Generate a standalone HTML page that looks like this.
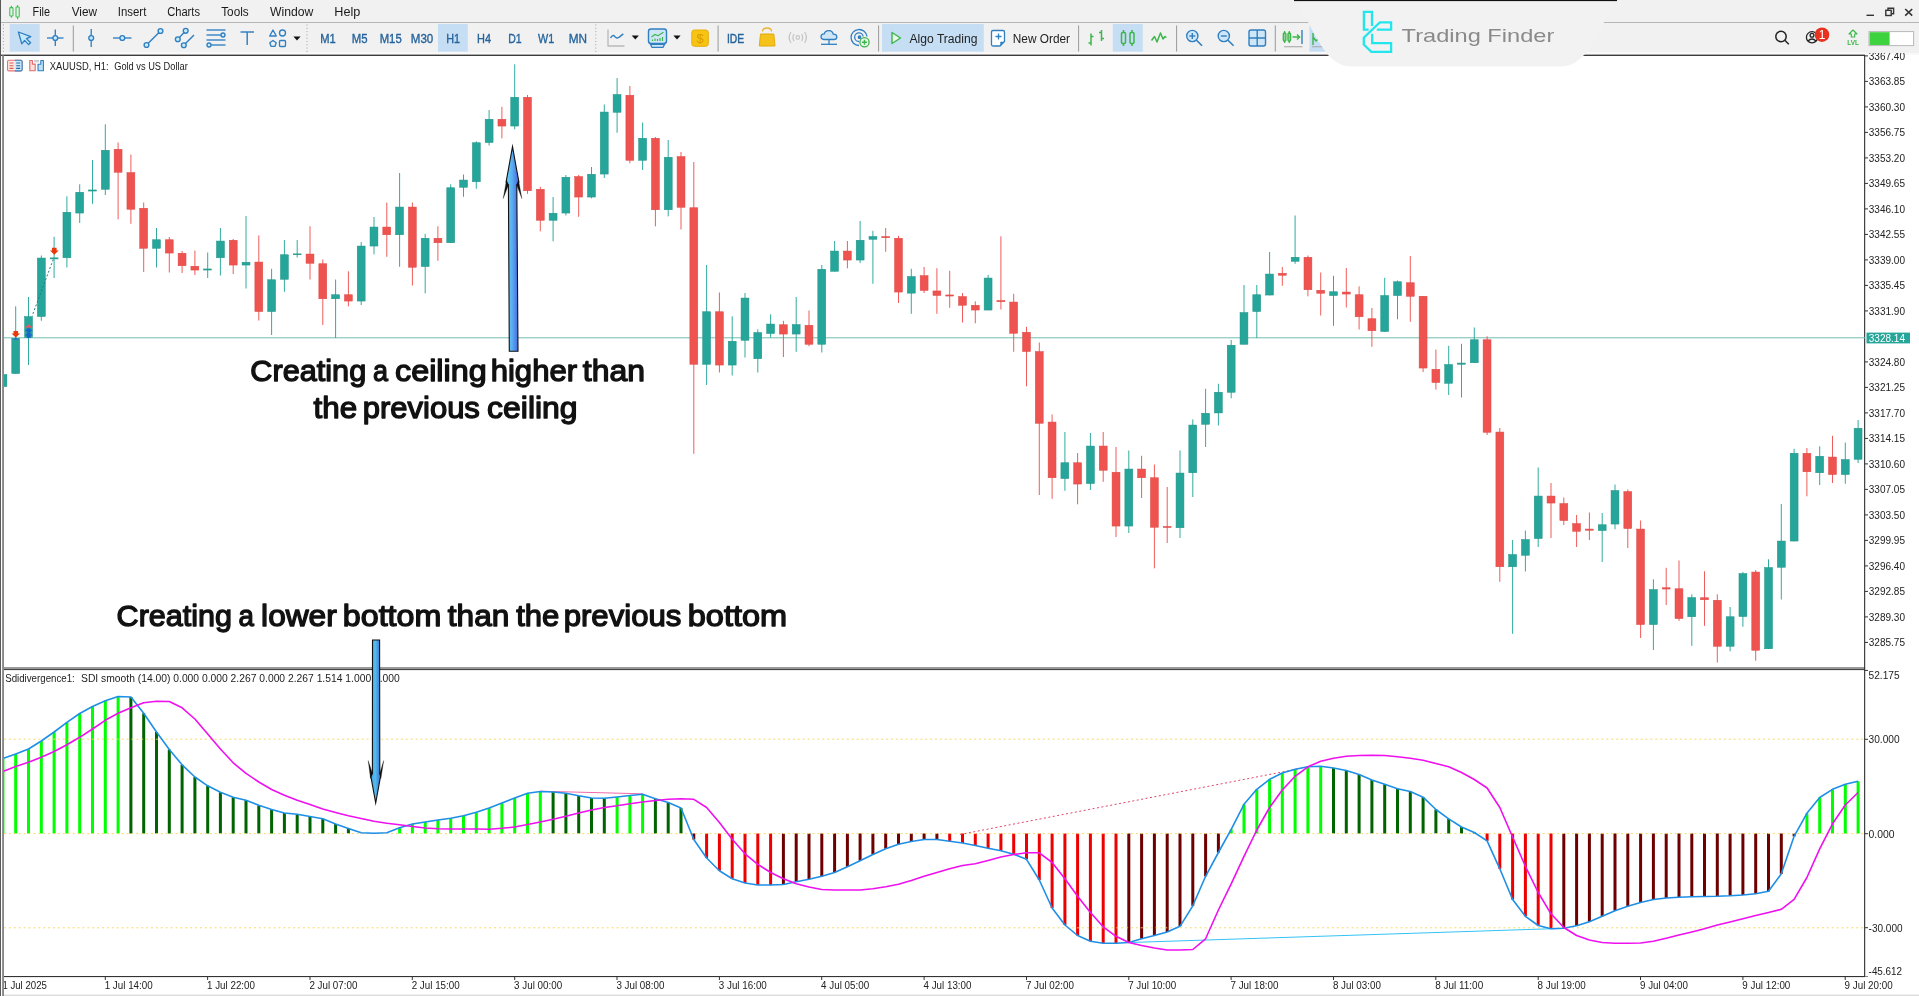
<!DOCTYPE html>
<html><head><meta charset="utf-8"><title>XAUUSD H1</title>
<style>
html,body{margin:0;padding:0;background:#fff;}
body{width:1919px;height:996px;overflow:hidden;position:relative;font-family:"Liberation Sans",sans-serif;}
#menubar{position:absolute;left:0;top:0;width:1919px;height:22px;background:#f1f1f1;}
#toolbar{position:absolute;left:0;top:22px;width:1919px;height:32px;background:#f1f1f1;border-top:1px solid #b6b6b6;box-sizing:border-box;}
.mi{position:absolute;top:5px;font-size:12px;color:#1a1a1a;white-space:nowrap;transform-origin:left center;}
.tf{position:absolute;top:32px;font-size:13px;color:#2b6ca3;white-space:nowrap;}
.sel{position:absolute;top:24px;height:28px;background:#c6def3;}
.tsep{position:absolute;top:27px;width:1px;height:24px;background:#a8a8a8;}
.dsep{position:absolute;top:26px;width:0;height:26px;border-left:1px dotted #9a9a9a;}
.tbtxt{position:absolute;top:31px;font-size:13px;color:#222;white-space:nowrap;}
#all{position:absolute;left:0;top:0;will-change:transform;}
text{font-family:"Liberation Sans",sans-serif;}
.ax{font-size:10px;fill:#222;}
.big{font-weight:bold;font-size:30px;fill:#111;}
</style></head><body>
<div id="menubar"></div>
<div id="toolbar"></div>
<!--MENU-->
<svg id="all" width="1919" height="996" viewBox="0 0 1919 996">
<rect x="0" y="52" width="1919" height="3" fill="#f8f8f8"/>
<rect x="1" y="54.6" width="1864" height="1.4" fill="#3c3c3c"/>
<rect x="3" y="667" width="1862" height="2" fill="#9a9a9a"/>
<rect x="3" y="669" width="1862" height="1.1" fill="#444"/>
<rect x="1864.1" y="55" width="1.1" height="922" fill="#2e2e2e"/>
<rect x="3" y="976" width="1862" height="1.1" fill="#333"/>
<rect x="0" y="994.6" width="1919" height="1.4" fill="#dcdcdc"/>
<rect x="1865" y="55.4" width="3" height="1" fill="#333"/>
<text x="1868.8" y="59.7" font-size="10" fill="#222" text-anchor="start" textLength="36.2" lengthAdjust="spacingAndGlyphs" >3367.40</text>
<rect x="1865" y="80.9" width="3" height="1" fill="#333"/>
<text x="1868.8" y="85.2" font-size="10" fill="#222" text-anchor="start" textLength="36.2" lengthAdjust="spacingAndGlyphs" >3363.85</text>
<rect x="1865" y="106.4" width="3" height="1" fill="#333"/>
<text x="1868.8" y="110.7" font-size="10" fill="#222" text-anchor="start" textLength="36.2" lengthAdjust="spacingAndGlyphs" >3360.30</text>
<rect x="1865" y="131.9" width="3" height="1" fill="#333"/>
<text x="1868.8" y="136.2" font-size="10" fill="#222" text-anchor="start" textLength="36.2" lengthAdjust="spacingAndGlyphs" >3356.75</text>
<rect x="1865" y="157.4" width="3" height="1" fill="#333"/>
<text x="1868.8" y="161.7" font-size="10" fill="#222" text-anchor="start" textLength="36.2" lengthAdjust="spacingAndGlyphs" >3353.20</text>
<rect x="1865" y="182.9" width="3" height="1" fill="#333"/>
<text x="1868.8" y="187.2" font-size="10" fill="#222" text-anchor="start" textLength="36.2" lengthAdjust="spacingAndGlyphs" >3349.65</text>
<rect x="1865" y="208.4" width="3" height="1" fill="#333"/>
<text x="1868.8" y="212.7" font-size="10" fill="#222" text-anchor="start" textLength="36.2" lengthAdjust="spacingAndGlyphs" >3346.10</text>
<rect x="1865" y="233.9" width="3" height="1" fill="#333"/>
<text x="1868.8" y="238.2" font-size="10" fill="#222" text-anchor="start" textLength="36.2" lengthAdjust="spacingAndGlyphs" >3342.55</text>
<rect x="1865" y="259.4" width="3" height="1" fill="#333"/>
<text x="1868.8" y="263.7" font-size="10" fill="#222" text-anchor="start" textLength="36.2" lengthAdjust="spacingAndGlyphs" >3339.00</text>
<rect x="1865" y="284.9" width="3" height="1" fill="#333"/>
<text x="1868.8" y="289.2" font-size="10" fill="#222" text-anchor="start" textLength="36.2" lengthAdjust="spacingAndGlyphs" >3335.45</text>
<rect x="1865" y="310.4" width="3" height="1" fill="#333"/>
<text x="1868.8" y="314.7" font-size="10" fill="#222" text-anchor="start" textLength="36.2" lengthAdjust="spacingAndGlyphs" >3331.90</text>
<rect x="1865" y="361.4" width="3" height="1" fill="#333"/>
<text x="1868.8" y="365.7" font-size="10" fill="#222" text-anchor="start" textLength="36.2" lengthAdjust="spacingAndGlyphs" >3324.80</text>
<rect x="1865" y="386.9" width="3" height="1" fill="#333"/>
<text x="1868.8" y="391.2" font-size="10" fill="#222" text-anchor="start" textLength="36.2" lengthAdjust="spacingAndGlyphs" >3321.25</text>
<rect x="1865" y="412.4" width="3" height="1" fill="#333"/>
<text x="1868.8" y="416.7" font-size="10" fill="#222" text-anchor="start" textLength="36.2" lengthAdjust="spacingAndGlyphs" >3317.70</text>
<rect x="1865" y="437.9" width="3" height="1" fill="#333"/>
<text x="1868.8" y="442.2" font-size="10" fill="#222" text-anchor="start" textLength="36.2" lengthAdjust="spacingAndGlyphs" >3314.15</text>
<rect x="1865" y="463.4" width="3" height="1" fill="#333"/>
<text x="1868.8" y="467.7" font-size="10" fill="#222" text-anchor="start" textLength="36.2" lengthAdjust="spacingAndGlyphs" >3310.60</text>
<rect x="1865" y="488.9" width="3" height="1" fill="#333"/>
<text x="1868.8" y="493.2" font-size="10" fill="#222" text-anchor="start" textLength="36.2" lengthAdjust="spacingAndGlyphs" >3307.05</text>
<rect x="1865" y="514.4" width="3" height="1" fill="#333"/>
<text x="1868.8" y="518.7" font-size="10" fill="#222" text-anchor="start" textLength="36.2" lengthAdjust="spacingAndGlyphs" >3303.50</text>
<rect x="1865" y="539.9" width="3" height="1" fill="#333"/>
<text x="1868.8" y="544.2" font-size="10" fill="#222" text-anchor="start" textLength="36.2" lengthAdjust="spacingAndGlyphs" >3299.95</text>
<rect x="1865" y="565.4" width="3" height="1" fill="#333"/>
<text x="1868.8" y="569.7" font-size="10" fill="#222" text-anchor="start" textLength="36.2" lengthAdjust="spacingAndGlyphs" >3296.40</text>
<rect x="1865" y="590.9" width="3" height="1" fill="#333"/>
<text x="1868.8" y="595.2" font-size="10" fill="#222" text-anchor="start" textLength="36.2" lengthAdjust="spacingAndGlyphs" >3292.85</text>
<rect x="1865" y="616.4" width="3" height="1" fill="#333"/>
<text x="1868.8" y="620.7" font-size="10" fill="#222" text-anchor="start" textLength="36.2" lengthAdjust="spacingAndGlyphs" >3289.30</text>
<rect x="1865" y="641.9" width="3" height="1" fill="#333"/>
<text x="1868.8" y="646.2" font-size="10" fill="#222" text-anchor="start" textLength="36.2" lengthAdjust="spacingAndGlyphs" >3285.75</text>
<rect x="1866.5" y="332.6" width="43.5" height="10.8" fill="#26a69a"/>
<text x="1868.8" y="341.7" font-size="10" fill="#fff" text-anchor="start" textLength="36.2" lengthAdjust="spacingAndGlyphs" >3328.14</text>
<text x="1868.6" y="679.0" font-size="10" fill="#222" text-anchor="start" textLength="31.0" lengthAdjust="spacingAndGlyphs" >52.175</text>
<rect x="1865" y="738.8" width="3" height="1" fill="#333"/>
<text x="1868.6" y="743.1" font-size="10" fill="#222" text-anchor="start" textLength="31.0" lengthAdjust="spacingAndGlyphs" >30.000</text>
<rect x="1865" y="833.2" width="3" height="1" fill="#333"/>
<text x="1868.6" y="837.5" font-size="10" fill="#222" text-anchor="start" textLength="26.0" lengthAdjust="spacingAndGlyphs" >0.000</text>
<rect x="1865" y="927.2" width="3" height="1" fill="#333"/>
<text x="1868.6" y="931.5" font-size="10" fill="#222" text-anchor="start" textLength="34.0" lengthAdjust="spacingAndGlyphs" >-30.000</text>
<text x="1868.6" y="974.8" font-size="10" fill="#222" text-anchor="start" textLength="33.5" lengthAdjust="spacingAndGlyphs" >-45.612</text>
<rect x="1865" y="669.9" width="3" height="1" fill="#333"/>
<rect x="1865" y="976" width="3" height="1" fill="#888"/>
<rect x="2.5" y="976" width="1" height="4" fill="#333"/>
<text x="2.4" y="989.2" font-size="10" fill="#222" text-anchor="start" textLength="44.5" lengthAdjust="spacingAndGlyphs" >1 Jul 2025</text>
<rect x="104.8" y="976" width="1" height="4" fill="#333"/>
<text x="104.7" y="989.2" font-size="10" fill="#222" text-anchor="start" textLength="48.0" lengthAdjust="spacingAndGlyphs" >1 Jul 14:00</text>
<rect x="207.1" y="976" width="1" height="4" fill="#333"/>
<text x="207.0" y="989.2" font-size="10" fill="#222" text-anchor="start" textLength="48.0" lengthAdjust="spacingAndGlyphs" >1 Jul 22:00</text>
<rect x="309.5" y="976" width="1" height="4" fill="#333"/>
<text x="309.4" y="989.2" font-size="10" fill="#222" text-anchor="start" textLength="48.0" lengthAdjust="spacingAndGlyphs" >2 Jul 07:00</text>
<rect x="411.8" y="976" width="1" height="4" fill="#333"/>
<text x="411.7" y="989.2" font-size="10" fill="#222" text-anchor="start" textLength="48.0" lengthAdjust="spacingAndGlyphs" >2 Jul 15:00</text>
<rect x="514.2" y="976" width="1" height="4" fill="#333"/>
<text x="514.1" y="989.2" font-size="10" fill="#222" text-anchor="start" textLength="48.0" lengthAdjust="spacingAndGlyphs" >3 Jul 00:00</text>
<rect x="616.5" y="976" width="1" height="4" fill="#333"/>
<text x="616.4" y="989.2" font-size="10" fill="#222" text-anchor="start" textLength="48.0" lengthAdjust="spacingAndGlyphs" >3 Jul 08:00</text>
<rect x="718.9" y="976" width="1" height="4" fill="#333"/>
<text x="718.8" y="989.2" font-size="10" fill="#222" text-anchor="start" textLength="48.0" lengthAdjust="spacingAndGlyphs" >3 Jul 16:00</text>
<rect x="821.2" y="976" width="1" height="4" fill="#333"/>
<text x="821.1" y="989.2" font-size="10" fill="#222" text-anchor="start" textLength="48.0" lengthAdjust="spacingAndGlyphs" >4 Jul 05:00</text>
<rect x="923.6" y="976" width="1" height="4" fill="#333"/>
<text x="923.5" y="989.2" font-size="10" fill="#222" text-anchor="start" textLength="48.0" lengthAdjust="spacingAndGlyphs" >4 Jul 13:00</text>
<rect x="1026.0" y="976" width="1" height="4" fill="#333"/>
<text x="1025.9" y="989.2" font-size="10" fill="#222" text-anchor="start" textLength="48.0" lengthAdjust="spacingAndGlyphs" >7 Jul 02:00</text>
<rect x="1128.3" y="976" width="1" height="4" fill="#333"/>
<text x="1128.2" y="989.2" font-size="10" fill="#222" text-anchor="start" textLength="48.0" lengthAdjust="spacingAndGlyphs" >7 Jul 10:00</text>
<rect x="1230.6" y="976" width="1" height="4" fill="#333"/>
<text x="1230.5" y="989.2" font-size="10" fill="#222" text-anchor="start" textLength="48.0" lengthAdjust="spacingAndGlyphs" >7 Jul 18:00</text>
<rect x="1333.0" y="976" width="1" height="4" fill="#333"/>
<text x="1332.9" y="989.2" font-size="10" fill="#222" text-anchor="start" textLength="48.0" lengthAdjust="spacingAndGlyphs" >8 Jul 03:00</text>
<rect x="1435.3" y="976" width="1" height="4" fill="#333"/>
<text x="1435.2" y="989.2" font-size="10" fill="#222" text-anchor="start" textLength="48.0" lengthAdjust="spacingAndGlyphs" >8 Jul 11:00</text>
<rect x="1537.7" y="976" width="1" height="4" fill="#333"/>
<text x="1537.6" y="989.2" font-size="10" fill="#222" text-anchor="start" textLength="48.0" lengthAdjust="spacingAndGlyphs" >8 Jul 19:00</text>
<rect x="1640.0" y="976" width="1" height="4" fill="#333"/>
<text x="1640.0" y="989.2" font-size="10" fill="#222" text-anchor="start" textLength="48.0" lengthAdjust="spacingAndGlyphs" >9 Jul 04:00</text>
<rect x="1742.4" y="976" width="1" height="4" fill="#333"/>
<text x="1742.3" y="989.2" font-size="10" fill="#222" text-anchor="start" textLength="48.0" lengthAdjust="spacingAndGlyphs" >9 Jul 12:00</text>
<rect x="1844.7" y="976" width="1" height="4" fill="#333"/>
<text x="1844.6" y="989.2" font-size="10" fill="#222" text-anchor="start" textLength="48.0" lengthAdjust="spacingAndGlyphs" >9 Jul 20:00</text>
<text x="49.8" y="69.6" font-size="10" fill="#222" text-anchor="start" textLength="58.8" lengthAdjust="spacingAndGlyphs" >XAUUSD, H1:</text>
<text x="114.2" y="69.6" font-size="10" fill="#222" text-anchor="start" textLength="73.6" lengthAdjust="spacingAndGlyphs" >Gold vs US Dollar</text>
<text x="5.2" y="682.4" font-size="10" fill="#222" text-anchor="start" textLength="69.6" lengthAdjust="spacingAndGlyphs" >Sdidivergence1:</text>
<text x="81.0" y="682.4" font-size="10" fill="#222" text-anchor="start" textLength="318.8" lengthAdjust="spacingAndGlyphs" >SDI smooth (14.00) 0.000 0.000 2.267 0.000 2.267 1.514 1.000 0.000</text>
<line x1="3" y1="337.8" x2="1865" y2="337.8" stroke="#72bdb3" stroke-width="1"/>
<line x1="2.9" y1="372.0" x2="2.9" y2="388.0" stroke="#26a69a" stroke-width="0.95"/>
<rect x="-1.00" y="374.55" width="7.9" height="12.00" fill="#26a69a" stroke="#1f9287" stroke-width="0.5"/>
<line x1="15.7" y1="306.3" x2="15.7" y2="373.8" stroke="#26a69a" stroke-width="0.95"/>
<rect x="11.79" y="338.25" width="7.9" height="35.30" fill="#26a69a" stroke="#1f9287" stroke-width="0.5"/>
<line x1="28.5" y1="297.0" x2="28.5" y2="365.0" stroke="#26a69a" stroke-width="0.95"/>
<rect x="24.59" y="316.55" width="7.9" height="20.70" fill="#26a69a" stroke="#1f9287" stroke-width="0.5"/>
<line x1="41.3" y1="255.5" x2="41.3" y2="320.8" stroke="#26a69a" stroke-width="0.95"/>
<rect x="37.38" y="258.05" width="7.9" height="58.50" fill="#26a69a" stroke="#1f9287" stroke-width="0.5"/>
<line x1="54.1" y1="236.8" x2="54.1" y2="278.0" stroke="#26a69a" stroke-width="0.95"/>
<rect x="50.17" y="257.85" width="7.9" height="1.10" fill="#26a69a" stroke="#1f9287" stroke-width="0.5"/>
<line x1="66.9" y1="196.3" x2="66.9" y2="267.5" stroke="#26a69a" stroke-width="0.95"/>
<rect x="62.97" y="212.25" width="7.9" height="45.50" fill="#26a69a" stroke="#1f9287" stroke-width="0.5"/>
<line x1="79.7" y1="184.3" x2="79.7" y2="223.0" stroke="#26a69a" stroke-width="0.95"/>
<rect x="75.76" y="192.25" width="7.9" height="20.80" fill="#26a69a" stroke="#1f9287" stroke-width="0.5"/>
<line x1="92.5" y1="160.0" x2="92.5" y2="203.8" stroke="#26a69a" stroke-width="0.95"/>
<rect x="88.56" y="189.95" width="7.9" height="1.10" fill="#26a69a" stroke="#1f9287" stroke-width="0.5"/>
<line x1="105.3" y1="124.3" x2="105.3" y2="195.0" stroke="#26a69a" stroke-width="0.95"/>
<rect x="101.35" y="150.25" width="7.9" height="39.00" fill="#26a69a" stroke="#1f9287" stroke-width="0.5"/>
<line x1="118.1" y1="142.5" x2="118.1" y2="219.3" stroke="#ef5350" stroke-width="0.95"/>
<rect x="114.14" y="149.25" width="7.9" height="23.00" fill="#ef5350" stroke="#dc4844" stroke-width="0.5"/>
<line x1="130.9" y1="154.5" x2="130.9" y2="223.8" stroke="#ef5350" stroke-width="0.95"/>
<rect x="126.94" y="172.55" width="7.9" height="36.70" fill="#ef5350" stroke="#dc4844" stroke-width="0.5"/>
<line x1="143.7" y1="202.5" x2="143.7" y2="272.0" stroke="#ef5350" stroke-width="0.95"/>
<rect x="139.73" y="208.25" width="7.9" height="40.00" fill="#ef5350" stroke="#dc4844" stroke-width="0.5"/>
<line x1="156.5" y1="228.0" x2="156.5" y2="267.5" stroke="#26a69a" stroke-width="0.95"/>
<rect x="152.53" y="239.75" width="7.9" height="8.50" fill="#26a69a" stroke="#1f9287" stroke-width="0.5"/>
<line x1="169.3" y1="237.0" x2="169.3" y2="272.5" stroke="#ef5350" stroke-width="0.95"/>
<rect x="165.32" y="239.75" width="7.9" height="13.30" fill="#ef5350" stroke="#dc4844" stroke-width="0.5"/>
<line x1="182.1" y1="251.0" x2="182.1" y2="273.0" stroke="#ef5350" stroke-width="0.95"/>
<rect x="178.11" y="253.25" width="7.9" height="12.50" fill="#ef5350" stroke="#dc4844" stroke-width="0.5"/>
<line x1="194.9" y1="250.5" x2="194.9" y2="275.0" stroke="#ef5350" stroke-width="0.95"/>
<rect x="190.91" y="266.25" width="7.9" height="3.80" fill="#ef5350" stroke="#dc4844" stroke-width="0.5"/>
<line x1="207.7" y1="252.5" x2="207.7" y2="278.0" stroke="#26a69a" stroke-width="0.95"/>
<rect x="203.70" y="268.95" width="7.9" height="1.10" fill="#26a69a" stroke="#1f9287" stroke-width="0.5"/>
<line x1="220.4" y1="228.0" x2="220.4" y2="275.5" stroke="#26a69a" stroke-width="0.95"/>
<rect x="216.50" y="241.05" width="7.9" height="16.70" fill="#26a69a" stroke="#1f9287" stroke-width="0.5"/>
<line x1="233.2" y1="239.0" x2="233.2" y2="274.0" stroke="#ef5350" stroke-width="0.95"/>
<rect x="229.29" y="240.25" width="7.9" height="24.80" fill="#ef5350" stroke="#dc4844" stroke-width="0.5"/>
<line x1="246.0" y1="216.0" x2="246.0" y2="288.5" stroke="#26a69a" stroke-width="0.95"/>
<rect x="242.08" y="262.25" width="7.9" height="2.80" fill="#26a69a" stroke="#1f9287" stroke-width="0.5"/>
<line x1="258.8" y1="235.5" x2="258.8" y2="320.5" stroke="#ef5350" stroke-width="0.95"/>
<rect x="254.88" y="262.05" width="7.9" height="49.50" fill="#ef5350" stroke="#dc4844" stroke-width="0.5"/>
<line x1="271.6" y1="268.8" x2="271.6" y2="335.0" stroke="#26a69a" stroke-width="0.95"/>
<rect x="267.67" y="279.75" width="7.9" height="31.80" fill="#26a69a" stroke="#1f9287" stroke-width="0.5"/>
<line x1="284.4" y1="240.0" x2="284.4" y2="291.8" stroke="#26a69a" stroke-width="0.95"/>
<rect x="280.47" y="254.75" width="7.9" height="24.50" fill="#26a69a" stroke="#1f9287" stroke-width="0.5"/>
<line x1="297.2" y1="240.0" x2="297.2" y2="257.5" stroke="#26a69a" stroke-width="0.95"/>
<rect x="293.26" y="253.85" width="7.9" height="0.90" fill="#26a69a" stroke="#1f9287" stroke-width="0.5"/>
<line x1="310.0" y1="226.3" x2="310.0" y2="279.5" stroke="#ef5350" stroke-width="0.95"/>
<rect x="306.05" y="254.05" width="7.9" height="9.20" fill="#ef5350" stroke="#dc4844" stroke-width="0.5"/>
<line x1="322.8" y1="259.5" x2="322.8" y2="325.0" stroke="#ef5350" stroke-width="0.95"/>
<rect x="318.85" y="263.75" width="7.9" height="35.00" fill="#ef5350" stroke="#dc4844" stroke-width="0.5"/>
<line x1="335.6" y1="279.5" x2="335.6" y2="338.0" stroke="#26a69a" stroke-width="0.95"/>
<rect x="331.64" y="294.75" width="7.9" height="4.00" fill="#26a69a" stroke="#1f9287" stroke-width="0.5"/>
<line x1="348.4" y1="271.3" x2="348.4" y2="306.3" stroke="#ef5350" stroke-width="0.95"/>
<rect x="344.44" y="294.75" width="7.9" height="6.30" fill="#ef5350" stroke="#dc4844" stroke-width="0.5"/>
<line x1="361.2" y1="242.0" x2="361.2" y2="305.0" stroke="#26a69a" stroke-width="0.95"/>
<rect x="357.23" y="246.05" width="7.9" height="55.00" fill="#26a69a" stroke="#1f9287" stroke-width="0.5"/>
<line x1="374.0" y1="217.0" x2="374.0" y2="254.3" stroke="#26a69a" stroke-width="0.95"/>
<rect x="370.02" y="227.05" width="7.9" height="19.00" fill="#26a69a" stroke="#1f9287" stroke-width="0.5"/>
<line x1="386.8" y1="202.5" x2="386.8" y2="256.8" stroke="#ef5350" stroke-width="0.95"/>
<rect x="382.82" y="227.05" width="7.9" height="7.70" fill="#ef5350" stroke="#dc4844" stroke-width="0.5"/>
<line x1="399.6" y1="173.0" x2="399.6" y2="266.8" stroke="#26a69a" stroke-width="0.95"/>
<rect x="395.61" y="207.05" width="7.9" height="27.70" fill="#26a69a" stroke="#1f9287" stroke-width="0.5"/>
<line x1="412.4" y1="202.5" x2="412.4" y2="285.5" stroke="#ef5350" stroke-width="0.95"/>
<rect x="408.41" y="207.05" width="7.9" height="60.20" fill="#ef5350" stroke="#dc4844" stroke-width="0.5"/>
<line x1="425.2" y1="233.8" x2="425.2" y2="293.3" stroke="#26a69a" stroke-width="0.95"/>
<rect x="421.20" y="238.25" width="7.9" height="28.30" fill="#26a69a" stroke="#1f9287" stroke-width="0.5"/>
<line x1="437.9" y1="226.3" x2="437.9" y2="260.8" stroke="#ef5350" stroke-width="0.95"/>
<rect x="433.99" y="238.25" width="7.9" height="4.50" fill="#ef5350" stroke="#dc4844" stroke-width="0.5"/>
<line x1="450.7" y1="184.3" x2="450.7" y2="243.0" stroke="#26a69a" stroke-width="0.95"/>
<rect x="446.79" y="187.75" width="7.9" height="55.00" fill="#26a69a" stroke="#1f9287" stroke-width="0.5"/>
<line x1="463.5" y1="174.5" x2="463.5" y2="196.8" stroke="#26a69a" stroke-width="0.95"/>
<rect x="459.58" y="180.05" width="7.9" height="7.20" fill="#26a69a" stroke="#1f9287" stroke-width="0.5"/>
<line x1="476.3" y1="141.3" x2="476.3" y2="188.8" stroke="#26a69a" stroke-width="0.95"/>
<rect x="472.38" y="142.75" width="7.9" height="39.00" fill="#26a69a" stroke="#1f9287" stroke-width="0.5"/>
<line x1="489.1" y1="110.0" x2="489.1" y2="145.5" stroke="#26a69a" stroke-width="0.95"/>
<rect x="485.17" y="119.25" width="7.9" height="23.30" fill="#26a69a" stroke="#1f9287" stroke-width="0.5"/>
<line x1="501.9" y1="106.8" x2="501.9" y2="138.3" stroke="#ef5350" stroke-width="0.95"/>
<rect x="497.96" y="119.25" width="7.9" height="6.80" fill="#ef5350" stroke="#dc4844" stroke-width="0.5"/>
<line x1="514.7" y1="64.3" x2="514.7" y2="129.3" stroke="#26a69a" stroke-width="0.95"/>
<rect x="510.76" y="97.25" width="7.9" height="28.80" fill="#26a69a" stroke="#1f9287" stroke-width="0.5"/>
<line x1="527.5" y1="95.0" x2="527.5" y2="193.8" stroke="#ef5350" stroke-width="0.95"/>
<rect x="523.55" y="97.25" width="7.9" height="93.50" fill="#ef5350" stroke="#dc4844" stroke-width="0.5"/>
<line x1="540.3" y1="186.8" x2="540.3" y2="231.3" stroke="#ef5350" stroke-width="0.95"/>
<rect x="536.35" y="189.25" width="7.9" height="31.00" fill="#ef5350" stroke="#dc4844" stroke-width="0.5"/>
<line x1="553.1" y1="197.0" x2="553.1" y2="241.3" stroke="#26a69a" stroke-width="0.95"/>
<rect x="549.14" y="213.25" width="7.9" height="7.00" fill="#26a69a" stroke="#1f9287" stroke-width="0.5"/>
<line x1="565.9" y1="175.0" x2="565.9" y2="215.5" stroke="#26a69a" stroke-width="0.95"/>
<rect x="561.93" y="177.25" width="7.9" height="35.80" fill="#26a69a" stroke="#1f9287" stroke-width="0.5"/>
<line x1="578.7" y1="175.0" x2="578.7" y2="216.8" stroke="#ef5350" stroke-width="0.95"/>
<rect x="574.73" y="176.55" width="7.9" height="20.50" fill="#ef5350" stroke="#dc4844" stroke-width="0.5"/>
<line x1="591.5" y1="167.0" x2="591.5" y2="198.3" stroke="#26a69a" stroke-width="0.95"/>
<rect x="587.52" y="174.25" width="7.9" height="22.80" fill="#26a69a" stroke="#1f9287" stroke-width="0.5"/>
<line x1="604.3" y1="104.5" x2="604.3" y2="178.0" stroke="#26a69a" stroke-width="0.95"/>
<rect x="600.32" y="112.05" width="7.9" height="62.00" fill="#26a69a" stroke="#1f9287" stroke-width="0.5"/>
<line x1="617.1" y1="78.0" x2="617.1" y2="132.8" stroke="#26a69a" stroke-width="0.95"/>
<rect x="613.11" y="94.55" width="7.9" height="17.70" fill="#26a69a" stroke="#1f9287" stroke-width="0.5"/>
<line x1="629.9" y1="86.0" x2="629.9" y2="163.3" stroke="#ef5350" stroke-width="0.95"/>
<rect x="625.90" y="95.25" width="7.9" height="65.00" fill="#ef5350" stroke="#dc4844" stroke-width="0.5"/>
<line x1="642.6" y1="122.5" x2="642.6" y2="170.0" stroke="#26a69a" stroke-width="0.95"/>
<rect x="638.70" y="138.25" width="7.9" height="22.00" fill="#26a69a" stroke="#1f9287" stroke-width="0.5"/>
<line x1="655.4" y1="137.0" x2="655.4" y2="226.3" stroke="#ef5350" stroke-width="0.95"/>
<rect x="651.49" y="138.25" width="7.9" height="71.50" fill="#ef5350" stroke="#dc4844" stroke-width="0.5"/>
<line x1="668.2" y1="140.0" x2="668.2" y2="216.3" stroke="#26a69a" stroke-width="0.95"/>
<rect x="664.29" y="157.25" width="7.9" height="52.50" fill="#26a69a" stroke="#1f9287" stroke-width="0.5"/>
<line x1="681.0" y1="152.0" x2="681.0" y2="229.5" stroke="#ef5350" stroke-width="0.95"/>
<rect x="677.08" y="156.55" width="7.9" height="50.70" fill="#ef5350" stroke="#dc4844" stroke-width="0.5"/>
<line x1="693.8" y1="162.0" x2="693.8" y2="453.8" stroke="#ef5350" stroke-width="0.95"/>
<rect x="689.87" y="207.75" width="7.9" height="156.50" fill="#ef5350" stroke="#dc4844" stroke-width="0.5"/>
<line x1="706.6" y1="265.0" x2="706.6" y2="385.0" stroke="#26a69a" stroke-width="0.95"/>
<rect x="702.67" y="311.75" width="7.9" height="52.50" fill="#26a69a" stroke="#1f9287" stroke-width="0.5"/>
<line x1="719.4" y1="292.5" x2="719.4" y2="372.5" stroke="#ef5350" stroke-width="0.95"/>
<rect x="715.46" y="311.75" width="7.9" height="53.30" fill="#ef5350" stroke="#dc4844" stroke-width="0.5"/>
<line x1="732.2" y1="316.3" x2="732.2" y2="375.5" stroke="#26a69a" stroke-width="0.95"/>
<rect x="728.26" y="341.25" width="7.9" height="23.80" fill="#26a69a" stroke="#1f9287" stroke-width="0.5"/>
<line x1="745.0" y1="293.0" x2="745.0" y2="357.5" stroke="#26a69a" stroke-width="0.95"/>
<rect x="741.05" y="298.05" width="7.9" height="42.20" fill="#26a69a" stroke="#1f9287" stroke-width="0.5"/>
<line x1="757.8" y1="329.3" x2="757.8" y2="372.5" stroke="#26a69a" stroke-width="0.95"/>
<rect x="753.84" y="332.55" width="7.9" height="26.20" fill="#26a69a" stroke="#1f9287" stroke-width="0.5"/>
<line x1="770.6" y1="314.3" x2="770.6" y2="337.5" stroke="#26a69a" stroke-width="0.95"/>
<rect x="766.64" y="324.05" width="7.9" height="9.50" fill="#26a69a" stroke="#1f9287" stroke-width="0.5"/>
<line x1="783.4" y1="320.8" x2="783.4" y2="357.0" stroke="#ef5350" stroke-width="0.95"/>
<rect x="779.43" y="324.75" width="7.9" height="9.30" fill="#ef5350" stroke="#dc4844" stroke-width="0.5"/>
<line x1="796.2" y1="297.0" x2="796.2" y2="351.8" stroke="#26a69a" stroke-width="0.95"/>
<rect x="792.23" y="324.55" width="7.9" height="9.50" fill="#26a69a" stroke="#1f9287" stroke-width="0.5"/>
<line x1="809.0" y1="310.5" x2="809.0" y2="346.3" stroke="#ef5350" stroke-width="0.95"/>
<rect x="805.02" y="325.25" width="7.9" height="19.00" fill="#ef5350" stroke="#dc4844" stroke-width="0.5"/>
<line x1="821.8" y1="265.0" x2="821.8" y2="352.5" stroke="#26a69a" stroke-width="0.95"/>
<rect x="817.81" y="269.25" width="7.9" height="75.00" fill="#26a69a" stroke="#1f9287" stroke-width="0.5"/>
<line x1="834.6" y1="241.0" x2="834.6" y2="271.5" stroke="#26a69a" stroke-width="0.95"/>
<rect x="830.61" y="251.05" width="7.9" height="20.20" fill="#26a69a" stroke="#1f9287" stroke-width="0.5"/>
<line x1="847.4" y1="241.0" x2="847.4" y2="268.3" stroke="#ef5350" stroke-width="0.95"/>
<rect x="843.40" y="251.05" width="7.9" height="9.00" fill="#ef5350" stroke="#dc4844" stroke-width="0.5"/>
<line x1="860.1" y1="221.0" x2="860.1" y2="263.0" stroke="#26a69a" stroke-width="0.95"/>
<rect x="856.20" y="240.25" width="7.9" height="19.80" fill="#26a69a" stroke="#1f9287" stroke-width="0.5"/>
<line x1="872.9" y1="230.8" x2="872.9" y2="283.8" stroke="#26a69a" stroke-width="0.95"/>
<rect x="868.99" y="236.55" width="7.9" height="2.70" fill="#26a69a" stroke="#1f9287" stroke-width="0.5"/>
<line x1="885.7" y1="228.0" x2="885.7" y2="251.8" stroke="#ef5350" stroke-width="0.95"/>
<rect x="881.78" y="236.55" width="7.9" height="1.20" fill="#ef5350" stroke="#dc4844" stroke-width="0.5"/>
<line x1="898.5" y1="235.8" x2="898.5" y2="303.0" stroke="#ef5350" stroke-width="0.95"/>
<rect x="894.58" y="238.25" width="7.9" height="53.80" fill="#ef5350" stroke="#dc4844" stroke-width="0.5"/>
<line x1="911.3" y1="268.8" x2="911.3" y2="313.8" stroke="#26a69a" stroke-width="0.95"/>
<rect x="907.37" y="276.55" width="7.9" height="16.60" fill="#26a69a" stroke="#1f9287" stroke-width="0.5"/>
<line x1="924.1" y1="267.0" x2="924.1" y2="293.0" stroke="#ef5350" stroke-width="0.95"/>
<rect x="920.17" y="275.65" width="7.9" height="14.80" fill="#ef5350" stroke="#dc4844" stroke-width="0.5"/>
<line x1="936.9" y1="268.2" x2="936.9" y2="313.8" stroke="#ef5350" stroke-width="0.95"/>
<rect x="932.96" y="290.95" width="7.9" height="4.50" fill="#ef5350" stroke="#dc4844" stroke-width="0.5"/>
<line x1="949.7" y1="270.8" x2="949.7" y2="307.8" stroke="#ef5350" stroke-width="0.95"/>
<rect x="945.75" y="294.95" width="7.9" height="1.10" fill="#ef5350" stroke="#dc4844" stroke-width="0.5"/>
<line x1="962.5" y1="293.0" x2="962.5" y2="322.5" stroke="#ef5350" stroke-width="0.95"/>
<rect x="958.55" y="296.55" width="7.9" height="8.70" fill="#ef5350" stroke="#dc4844" stroke-width="0.5"/>
<line x1="975.3" y1="301.3" x2="975.3" y2="323.3" stroke="#ef5350" stroke-width="0.95"/>
<rect x="971.34" y="305.25" width="7.9" height="4.80" fill="#ef5350" stroke="#dc4844" stroke-width="0.5"/>
<line x1="988.1" y1="275.0" x2="988.1" y2="310.3" stroke="#26a69a" stroke-width="0.95"/>
<rect x="984.14" y="278.05" width="7.9" height="32.00" fill="#26a69a" stroke="#1f9287" stroke-width="0.5"/>
<line x1="1000.9" y1="236.3" x2="1000.9" y2="309.5" stroke="#ef5350" stroke-width="0.95"/>
<rect x="996.93" y="300.55" width="7.9" height="1.20" fill="#ef5350" stroke="#dc4844" stroke-width="0.5"/>
<line x1="1013.7" y1="293.8" x2="1013.7" y2="351.8" stroke="#ef5350" stroke-width="0.95"/>
<rect x="1009.72" y="302.05" width="7.9" height="31.20" fill="#ef5350" stroke="#dc4844" stroke-width="0.5"/>
<line x1="1026.5" y1="326.8" x2="1026.5" y2="386.3" stroke="#ef5350" stroke-width="0.95"/>
<rect x="1022.52" y="332.25" width="7.9" height="19.30" fill="#ef5350" stroke="#dc4844" stroke-width="0.5"/>
<line x1="1039.3" y1="342.5" x2="1039.3" y2="495.0" stroke="#ef5350" stroke-width="0.95"/>
<rect x="1035.31" y="351.55" width="7.9" height="71.70" fill="#ef5350" stroke="#dc4844" stroke-width="0.5"/>
<line x1="1052.1" y1="414.5" x2="1052.1" y2="498.8" stroke="#ef5350" stroke-width="0.95"/>
<rect x="1048.11" y="422.05" width="7.9" height="55.70" fill="#ef5350" stroke="#dc4844" stroke-width="0.5"/>
<line x1="1064.9" y1="432.0" x2="1064.9" y2="490.8" stroke="#26a69a" stroke-width="0.95"/>
<rect x="1060.90" y="462.75" width="7.9" height="15.80" fill="#26a69a" stroke="#1f9287" stroke-width="0.5"/>
<line x1="1077.6" y1="453.0" x2="1077.6" y2="504.3" stroke="#ef5350" stroke-width="0.95"/>
<rect x="1073.69" y="462.75" width="7.9" height="21.30" fill="#ef5350" stroke="#dc4844" stroke-width="0.5"/>
<line x1="1090.4" y1="433.0" x2="1090.4" y2="490.0" stroke="#26a69a" stroke-width="0.95"/>
<rect x="1086.49" y="446.05" width="7.9" height="37.50" fill="#26a69a" stroke="#1f9287" stroke-width="0.5"/>
<line x1="1103.2" y1="432.0" x2="1103.2" y2="481.8" stroke="#ef5350" stroke-width="0.95"/>
<rect x="1099.28" y="446.05" width="7.9" height="24.20" fill="#ef5350" stroke="#dc4844" stroke-width="0.5"/>
<line x1="1116.0" y1="447.0" x2="1116.0" y2="537.0" stroke="#ef5350" stroke-width="0.95"/>
<rect x="1112.08" y="472.25" width="7.9" height="53.80" fill="#ef5350" stroke="#dc4844" stroke-width="0.5"/>
<line x1="1128.8" y1="450.5" x2="1128.8" y2="533.0" stroke="#26a69a" stroke-width="0.95"/>
<rect x="1124.87" y="469.05" width="7.9" height="57.00" fill="#26a69a" stroke="#1f9287" stroke-width="0.5"/>
<line x1="1141.6" y1="455.8" x2="1141.6" y2="498.0" stroke="#ef5350" stroke-width="0.95"/>
<rect x="1137.66" y="469.05" width="7.9" height="8.70" fill="#ef5350" stroke="#dc4844" stroke-width="0.5"/>
<line x1="1154.4" y1="464.5" x2="1154.4" y2="568.3" stroke="#ef5350" stroke-width="0.95"/>
<rect x="1150.46" y="477.75" width="7.9" height="49.50" fill="#ef5350" stroke="#dc4844" stroke-width="0.5"/>
<line x1="1167.2" y1="487.0" x2="1167.2" y2="543.0" stroke="#ef5350" stroke-width="0.95"/>
<rect x="1163.25" y="526.45" width="7.9" height="1.10" fill="#ef5350" stroke="#dc4844" stroke-width="0.5"/>
<line x1="1180.0" y1="450.5" x2="1180.0" y2="538.0" stroke="#26a69a" stroke-width="0.95"/>
<rect x="1176.05" y="473.05" width="7.9" height="54.70" fill="#26a69a" stroke="#1f9287" stroke-width="0.5"/>
<line x1="1192.8" y1="419.4" x2="1192.8" y2="497.0" stroke="#26a69a" stroke-width="0.95"/>
<rect x="1188.84" y="425.05" width="7.9" height="47.70" fill="#26a69a" stroke="#1f9287" stroke-width="0.5"/>
<line x1="1205.6" y1="388.8" x2="1205.6" y2="447.0" stroke="#26a69a" stroke-width="0.95"/>
<rect x="1201.63" y="413.25" width="7.9" height="11.00" fill="#26a69a" stroke="#1f9287" stroke-width="0.5"/>
<line x1="1218.4" y1="383.8" x2="1218.4" y2="425.5" stroke="#26a69a" stroke-width="0.95"/>
<rect x="1214.43" y="392.25" width="7.9" height="20.70" fill="#26a69a" stroke="#1f9287" stroke-width="0.5"/>
<line x1="1231.2" y1="340.0" x2="1231.2" y2="398.3" stroke="#26a69a" stroke-width="0.95"/>
<rect x="1227.22" y="345.25" width="7.9" height="47.00" fill="#26a69a" stroke="#1f9287" stroke-width="0.5"/>
<line x1="1244.0" y1="285.0" x2="1244.0" y2="344.5" stroke="#26a69a" stroke-width="0.95"/>
<rect x="1240.02" y="312.55" width="7.9" height="31.70" fill="#26a69a" stroke="#1f9287" stroke-width="0.5"/>
<line x1="1256.8" y1="285.0" x2="1256.8" y2="338.0" stroke="#26a69a" stroke-width="0.95"/>
<rect x="1252.81" y="294.75" width="7.9" height="16.80" fill="#26a69a" stroke="#1f9287" stroke-width="0.5"/>
<line x1="1269.6" y1="252.0" x2="1269.6" y2="295.3" stroke="#26a69a" stroke-width="0.95"/>
<rect x="1265.60" y="274.05" width="7.9" height="21.00" fill="#26a69a" stroke="#1f9287" stroke-width="0.5"/>
<line x1="1282.3" y1="267.0" x2="1282.3" y2="285.8" stroke="#ef5350" stroke-width="0.95"/>
<rect x="1278.40" y="273.25" width="7.9" height="2.00" fill="#ef5350" stroke="#dc4844" stroke-width="0.5"/>
<line x1="1295.1" y1="215.5" x2="1295.1" y2="263.8" stroke="#26a69a" stroke-width="0.95"/>
<rect x="1291.19" y="257.25" width="7.9" height="4.00" fill="#26a69a" stroke="#1f9287" stroke-width="0.5"/>
<line x1="1307.9" y1="255.5" x2="1307.9" y2="296.3" stroke="#ef5350" stroke-width="0.95"/>
<rect x="1303.99" y="257.25" width="7.9" height="32.50" fill="#ef5350" stroke="#dc4844" stroke-width="0.5"/>
<line x1="1320.7" y1="272.5" x2="1320.7" y2="315.5" stroke="#ef5350" stroke-width="0.95"/>
<rect x="1316.78" y="290.25" width="7.9" height="3.00" fill="#ef5350" stroke="#dc4844" stroke-width="0.5"/>
<line x1="1333.5" y1="275.8" x2="1333.5" y2="325.8" stroke="#26a69a" stroke-width="0.95"/>
<rect x="1329.57" y="291.75" width="7.9" height="3.80" fill="#26a69a" stroke="#1f9287" stroke-width="0.5"/>
<line x1="1346.3" y1="268.0" x2="1346.3" y2="307.5" stroke="#ef5350" stroke-width="0.95"/>
<rect x="1342.37" y="292.05" width="7.9" height="2.00" fill="#ef5350" stroke="#dc4844" stroke-width="0.5"/>
<line x1="1359.1" y1="286.3" x2="1359.1" y2="329.5" stroke="#ef5350" stroke-width="0.95"/>
<rect x="1355.16" y="294.75" width="7.9" height="22.00" fill="#ef5350" stroke="#dc4844" stroke-width="0.5"/>
<line x1="1371.9" y1="308.0" x2="1371.9" y2="346.8" stroke="#ef5350" stroke-width="0.95"/>
<rect x="1367.96" y="318.75" width="7.9" height="12.00" fill="#ef5350" stroke="#dc4844" stroke-width="0.5"/>
<line x1="1384.7" y1="277.8" x2="1384.7" y2="331.8" stroke="#26a69a" stroke-width="0.95"/>
<rect x="1380.75" y="295.55" width="7.9" height="36.00" fill="#26a69a" stroke="#1f9287" stroke-width="0.5"/>
<line x1="1397.5" y1="280.5" x2="1397.5" y2="319.3" stroke="#26a69a" stroke-width="0.95"/>
<rect x="1393.54" y="281.75" width="7.9" height="13.80" fill="#26a69a" stroke="#1f9287" stroke-width="0.5"/>
<line x1="1410.3" y1="256.0" x2="1410.3" y2="321.8" stroke="#ef5350" stroke-width="0.95"/>
<rect x="1406.34" y="282.75" width="7.9" height="13.50" fill="#ef5350" stroke="#dc4844" stroke-width="0.5"/>
<line x1="1423.1" y1="296.0" x2="1423.1" y2="372.0" stroke="#ef5350" stroke-width="0.95"/>
<rect x="1419.13" y="296.25" width="7.9" height="71.80" fill="#ef5350" stroke="#dc4844" stroke-width="0.5"/>
<line x1="1435.9" y1="349.5" x2="1435.9" y2="389.5" stroke="#ef5350" stroke-width="0.95"/>
<rect x="1431.93" y="369.25" width="7.9" height="13.30" fill="#ef5350" stroke="#dc4844" stroke-width="0.5"/>
<line x1="1448.7" y1="345.8" x2="1448.7" y2="395.0" stroke="#26a69a" stroke-width="0.95"/>
<rect x="1444.72" y="364.55" width="7.9" height="18.70" fill="#26a69a" stroke="#1f9287" stroke-width="0.5"/>
<line x1="1461.5" y1="343.8" x2="1461.5" y2="397.5" stroke="#26a69a" stroke-width="0.95"/>
<rect x="1457.51" y="363.05" width="7.9" height="1.20" fill="#26a69a" stroke="#1f9287" stroke-width="0.5"/>
<line x1="1474.3" y1="327.5" x2="1474.3" y2="363.0" stroke="#26a69a" stroke-width="0.95"/>
<rect x="1470.31" y="339.75" width="7.9" height="23.00" fill="#26a69a" stroke="#1f9287" stroke-width="0.5"/>
<line x1="1487.1" y1="336.3" x2="1487.1" y2="435.0" stroke="#ef5350" stroke-width="0.95"/>
<rect x="1483.10" y="339.75" width="7.9" height="92.50" fill="#ef5350" stroke="#dc4844" stroke-width="0.5"/>
<line x1="1499.8" y1="428.0" x2="1499.8" y2="581.8" stroke="#ef5350" stroke-width="0.95"/>
<rect x="1495.90" y="432.05" width="7.9" height="134.70" fill="#ef5350" stroke="#dc4844" stroke-width="0.5"/>
<line x1="1512.6" y1="540.0" x2="1512.6" y2="633.8" stroke="#26a69a" stroke-width="0.95"/>
<rect x="1508.69" y="554.55" width="7.9" height="12.20" fill="#26a69a" stroke="#1f9287" stroke-width="0.5"/>
<line x1="1525.4" y1="530.5" x2="1525.4" y2="571.5" stroke="#26a69a" stroke-width="0.95"/>
<rect x="1521.48" y="539.55" width="7.9" height="15.70" fill="#26a69a" stroke="#1f9287" stroke-width="0.5"/>
<line x1="1538.2" y1="467.5" x2="1538.2" y2="547.0" stroke="#26a69a" stroke-width="0.95"/>
<rect x="1534.28" y="496.05" width="7.9" height="42.50" fill="#26a69a" stroke="#1f9287" stroke-width="0.5"/>
<line x1="1551.0" y1="483.0" x2="1551.0" y2="538.0" stroke="#ef5350" stroke-width="0.95"/>
<rect x="1547.07" y="496.05" width="7.9" height="7.00" fill="#ef5350" stroke="#dc4844" stroke-width="0.5"/>
<line x1="1563.8" y1="497.5" x2="1563.8" y2="525.0" stroke="#ef5350" stroke-width="0.95"/>
<rect x="1559.87" y="503.55" width="7.9" height="17.00" fill="#ef5350" stroke="#dc4844" stroke-width="0.5"/>
<line x1="1576.6" y1="515.0" x2="1576.6" y2="547.0" stroke="#ef5350" stroke-width="0.95"/>
<rect x="1572.66" y="523.55" width="7.9" height="7.70" fill="#ef5350" stroke="#dc4844" stroke-width="0.5"/>
<line x1="1589.4" y1="512.5" x2="1589.4" y2="540.0" stroke="#ef5350" stroke-width="0.95"/>
<rect x="1585.45" y="529.05" width="7.9" height="1.20" fill="#ef5350" stroke="#dc4844" stroke-width="0.5"/>
<line x1="1602.2" y1="513.0" x2="1602.2" y2="562.0" stroke="#26a69a" stroke-width="0.95"/>
<rect x="1598.25" y="524.75" width="7.9" height="5.80" fill="#26a69a" stroke="#1f9287" stroke-width="0.5"/>
<line x1="1615.0" y1="484.5" x2="1615.0" y2="529.3" stroke="#26a69a" stroke-width="0.95"/>
<rect x="1611.04" y="490.55" width="7.9" height="33.50" fill="#26a69a" stroke="#1f9287" stroke-width="0.5"/>
<line x1="1627.8" y1="489.5" x2="1627.8" y2="548.0" stroke="#ef5350" stroke-width="0.95"/>
<rect x="1623.84" y="491.55" width="7.9" height="37.00" fill="#ef5350" stroke="#dc4844" stroke-width="0.5"/>
<line x1="1640.6" y1="520.5" x2="1640.6" y2="638.0" stroke="#ef5350" stroke-width="0.95"/>
<rect x="1636.63" y="529.05" width="7.9" height="95.50" fill="#ef5350" stroke="#dc4844" stroke-width="0.5"/>
<line x1="1653.4" y1="579.3" x2="1653.4" y2="650.0" stroke="#26a69a" stroke-width="0.95"/>
<rect x="1649.42" y="589.55" width="7.9" height="35.00" fill="#26a69a" stroke="#1f9287" stroke-width="0.5"/>
<line x1="1666.2" y1="567.8" x2="1666.2" y2="605.0" stroke="#ef5350" stroke-width="0.95"/>
<rect x="1662.22" y="587.75" width="7.9" height="1.30" fill="#ef5350" stroke="#dc4844" stroke-width="0.5"/>
<line x1="1679.0" y1="560.5" x2="1679.0" y2="620.8" stroke="#ef5350" stroke-width="0.95"/>
<rect x="1675.01" y="588.75" width="7.9" height="29.80" fill="#ef5350" stroke="#dc4844" stroke-width="0.5"/>
<line x1="1691.8" y1="594.3" x2="1691.8" y2="645.8" stroke="#26a69a" stroke-width="0.95"/>
<rect x="1687.81" y="597.55" width="7.9" height="19.20" fill="#26a69a" stroke="#1f9287" stroke-width="0.5"/>
<line x1="1704.5" y1="571.3" x2="1704.5" y2="625.8" stroke="#ef5350" stroke-width="0.95"/>
<rect x="1700.60" y="597.75" width="7.9" height="2.00" fill="#ef5350" stroke="#dc4844" stroke-width="0.5"/>
<line x1="1717.3" y1="594.3" x2="1717.3" y2="662.5" stroke="#ef5350" stroke-width="0.95"/>
<rect x="1713.39" y="600.25" width="7.9" height="46.00" fill="#ef5350" stroke="#dc4844" stroke-width="0.5"/>
<line x1="1730.1" y1="607.0" x2="1730.1" y2="651.3" stroke="#26a69a" stroke-width="0.95"/>
<rect x="1726.19" y="616.75" width="7.9" height="29.50" fill="#26a69a" stroke="#1f9287" stroke-width="0.5"/>
<line x1="1742.9" y1="572.0" x2="1742.9" y2="626.8" stroke="#26a69a" stroke-width="0.95"/>
<rect x="1738.98" y="573.55" width="7.9" height="43.00" fill="#26a69a" stroke="#1f9287" stroke-width="0.5"/>
<line x1="1755.7" y1="570.0" x2="1755.7" y2="660.8" stroke="#ef5350" stroke-width="0.95"/>
<rect x="1751.78" y="572.05" width="7.9" height="78.20" fill="#ef5350" stroke="#dc4844" stroke-width="0.5"/>
<line x1="1768.5" y1="559.3" x2="1768.5" y2="649.0" stroke="#26a69a" stroke-width="0.95"/>
<rect x="1764.57" y="567.55" width="7.9" height="81.20" fill="#26a69a" stroke="#1f9287" stroke-width="0.5"/>
<line x1="1781.3" y1="504.0" x2="1781.3" y2="599.5" stroke="#26a69a" stroke-width="0.95"/>
<rect x="1777.36" y="541.05" width="7.9" height="26.20" fill="#26a69a" stroke="#1f9287" stroke-width="0.5"/>
<line x1="1794.1" y1="448.8" x2="1794.1" y2="541.3" stroke="#26a69a" stroke-width="0.95"/>
<rect x="1790.16" y="453.25" width="7.9" height="87.80" fill="#26a69a" stroke="#1f9287" stroke-width="0.5"/>
<line x1="1806.9" y1="448.0" x2="1806.9" y2="496.3" stroke="#ef5350" stroke-width="0.95"/>
<rect x="1802.95" y="453.25" width="7.9" height="18.50" fill="#ef5350" stroke="#dc4844" stroke-width="0.5"/>
<line x1="1819.7" y1="446.3" x2="1819.7" y2="485.0" stroke="#26a69a" stroke-width="0.95"/>
<rect x="1815.75" y="456.25" width="7.9" height="16.50" fill="#26a69a" stroke="#1f9287" stroke-width="0.5"/>
<line x1="1832.5" y1="435.8" x2="1832.5" y2="483.0" stroke="#ef5350" stroke-width="0.95"/>
<rect x="1828.54" y="457.05" width="7.9" height="17.50" fill="#ef5350" stroke="#dc4844" stroke-width="0.5"/>
<line x1="1845.3" y1="442.5" x2="1845.3" y2="483.8" stroke="#26a69a" stroke-width="0.95"/>
<rect x="1841.33" y="459.55" width="7.9" height="15.00" fill="#26a69a" stroke="#1f9287" stroke-width="0.5"/>
<line x1="1858.1" y1="420.0" x2="1858.1" y2="463.0" stroke="#26a69a" stroke-width="0.95"/>
<rect x="1854.13" y="428.25" width="7.9" height="31.00" fill="#26a69a" stroke="#1f9287" stroke-width="0.5"/>
<rect x="1.4" y="758.5" width="3" height="75.0" fill="#00ff00"/>
<rect x="14.2" y="754.0" width="3" height="79.5" fill="#00ff00"/>
<rect x="27.0" y="749.0" width="3" height="84.5" fill="#00ff00"/>
<rect x="39.8" y="741.0" width="3" height="92.5" fill="#00ff00"/>
<rect x="52.6" y="732.0" width="3" height="101.5" fill="#00ff00"/>
<rect x="65.4" y="722.3" width="3" height="111.2" fill="#00ff00"/>
<rect x="78.2" y="713.5" width="3" height="120.0" fill="#00ff00"/>
<rect x="91.0" y="706.5" width="3" height="127.0" fill="#00ff00"/>
<rect x="103.8" y="700.8" width="3" height="132.7" fill="#00ff00"/>
<rect x="116.6" y="696.5" width="3" height="137.0" fill="#00ff00"/>
<rect x="129.4" y="697.0" width="3" height="136.5" fill="#006400"/>
<rect x="142.2" y="713.3" width="3" height="120.2" fill="#006400"/>
<rect x="155.0" y="732.0" width="3" height="101.5" fill="#006400"/>
<rect x="167.8" y="749.5" width="3" height="84.0" fill="#006400"/>
<rect x="180.6" y="764.8" width="3" height="68.7" fill="#006400"/>
<rect x="193.4" y="777.0" width="3" height="56.5" fill="#006400"/>
<rect x="206.2" y="785.8" width="3" height="47.7" fill="#006400"/>
<rect x="218.9" y="792.3" width="3" height="41.2" fill="#006400"/>
<rect x="231.7" y="797.3" width="3" height="36.2" fill="#006400"/>
<rect x="244.5" y="800.3" width="3" height="33.2" fill="#006400"/>
<rect x="257.3" y="805.3" width="3" height="28.2" fill="#006400"/>
<rect x="270.1" y="809.5" width="3" height="24.0" fill="#006400"/>
<rect x="282.9" y="813.0" width="3" height="20.5" fill="#006400"/>
<rect x="295.7" y="814.3" width="3" height="19.2" fill="#006400"/>
<rect x="308.5" y="816.5" width="3" height="17.0" fill="#006400"/>
<rect x="321.3" y="818.8" width="3" height="14.7" fill="#006400"/>
<rect x="334.1" y="824.0" width="3" height="9.5" fill="#006400"/>
<rect x="346.9" y="828.5" width="3" height="5.0" fill="#006400"/>
<rect x="398.1" y="827.8" width="3" height="5.7" fill="#00ff00"/>
<rect x="410.9" y="824.0" width="3" height="9.5" fill="#00ff00"/>
<rect x="423.7" y="822.0" width="3" height="11.5" fill="#00ff00"/>
<rect x="436.4" y="820.0" width="3" height="13.5" fill="#00ff00"/>
<rect x="449.2" y="818.3" width="3" height="15.2" fill="#00ff00"/>
<rect x="462.0" y="815.8" width="3" height="17.7" fill="#00ff00"/>
<rect x="474.8" y="812.3" width="3" height="21.2" fill="#00ff00"/>
<rect x="487.6" y="808.0" width="3" height="25.5" fill="#00ff00"/>
<rect x="500.4" y="803.0" width="3" height="30.5" fill="#00ff00"/>
<rect x="513.2" y="798.0" width="3" height="35.5" fill="#00ff00"/>
<rect x="526.0" y="793.3" width="3" height="40.2" fill="#00ff00"/>
<rect x="538.8" y="791.5" width="3" height="42.0" fill="#00ff00"/>
<rect x="551.6" y="792.0" width="3" height="41.5" fill="#006400"/>
<rect x="564.4" y="793.3" width="3" height="40.2" fill="#006400"/>
<rect x="577.2" y="795.8" width="3" height="37.7" fill="#006400"/>
<rect x="590.0" y="798.0" width="3" height="35.5" fill="#006400"/>
<rect x="602.8" y="798.3" width="3" height="35.2" fill="#006400"/>
<rect x="615.6" y="797.0" width="3" height="36.5" fill="#00ff00"/>
<rect x="628.4" y="795.5" width="3" height="38.0" fill="#00ff00"/>
<rect x="641.1" y="794.3" width="3" height="39.2" fill="#00ff00"/>
<rect x="653.9" y="798.8" width="3" height="34.7" fill="#006400"/>
<rect x="666.7" y="802.5" width="3" height="31.0" fill="#006400"/>
<rect x="679.5" y="808.0" width="3" height="25.5" fill="#006400"/>
<rect x="692.3" y="833.5" width="3" height="6.0" fill="#6e0000"/>
<rect x="705.1" y="833.5" width="3" height="24.5" fill="#ee0000"/>
<rect x="717.9" y="833.5" width="3" height="37.3" fill="#ee0000"/>
<rect x="730.7" y="833.5" width="3" height="45.3" fill="#ee0000"/>
<rect x="743.5" y="833.5" width="3" height="49.5" fill="#ee0000"/>
<rect x="756.3" y="833.5" width="3" height="51.5" fill="#ee0000"/>
<rect x="769.1" y="833.5" width="3" height="51.5" fill="#ee0000"/>
<rect x="781.9" y="833.5" width="3" height="51.0" fill="#6e0000"/>
<rect x="794.7" y="833.5" width="3" height="48.3" fill="#6e0000"/>
<rect x="807.5" y="833.5" width="3" height="45.8" fill="#6e0000"/>
<rect x="820.3" y="833.5" width="3" height="42.8" fill="#6e0000"/>
<rect x="833.1" y="833.5" width="3" height="39.0" fill="#6e0000"/>
<rect x="845.9" y="833.5" width="3" height="33.3" fill="#6e0000"/>
<rect x="858.6" y="833.5" width="3" height="27.3" fill="#6e0000"/>
<rect x="871.4" y="833.5" width="3" height="21.0" fill="#6e0000"/>
<rect x="884.2" y="833.5" width="3" height="15.3" fill="#6e0000"/>
<rect x="897.0" y="833.5" width="3" height="10.8" fill="#6e0000"/>
<rect x="909.8" y="833.5" width="3" height="8.0" fill="#6e0000"/>
<rect x="922.6" y="833.5" width="3" height="6.0" fill="#6e0000"/>
<rect x="935.4" y="833.5" width="3" height="6.0" fill="#6e0000"/>
<rect x="948.2" y="833.5" width="3" height="7.8" fill="#ee0000"/>
<rect x="961.0" y="833.5" width="3" height="9.5" fill="#ee0000"/>
<rect x="973.8" y="833.5" width="3" height="12.0" fill="#ee0000"/>
<rect x="986.6" y="833.5" width="3" height="14.8" fill="#ee0000"/>
<rect x="999.4" y="833.5" width="3" height="17.3" fill="#ee0000"/>
<rect x="1012.2" y="833.5" width="3" height="20.8" fill="#ee0000"/>
<rect x="1025.0" y="833.5" width="3" height="25.8" fill="#ee0000"/>
<rect x="1037.8" y="833.5" width="3" height="46.5" fill="#ee0000"/>
<rect x="1050.6" y="833.5" width="3" height="74.5" fill="#ee0000"/>
<rect x="1063.4" y="833.5" width="3" height="91.5" fill="#ee0000"/>
<rect x="1076.1" y="833.5" width="3" height="102.0" fill="#ee0000"/>
<rect x="1088.9" y="833.5" width="3" height="107.8" fill="#ee0000"/>
<rect x="1101.7" y="833.5" width="3" height="109.8" fill="#ee0000"/>
<rect x="1114.5" y="833.5" width="3" height="109.8" fill="#ee0000"/>
<rect x="1127.3" y="833.5" width="3" height="109.0" fill="#6e0000"/>
<rect x="1140.1" y="833.5" width="3" height="105.3" fill="#6e0000"/>
<rect x="1152.9" y="833.5" width="3" height="102.0" fill="#6e0000"/>
<rect x="1165.7" y="833.5" width="3" height="98.5" fill="#6e0000"/>
<rect x="1178.5" y="833.5" width="3" height="92.8" fill="#6e0000"/>
<rect x="1191.3" y="833.5" width="3" height="72.3" fill="#6e0000"/>
<rect x="1204.1" y="833.5" width="3" height="42.8" fill="#6e0000"/>
<rect x="1216.9" y="833.5" width="3" height="19.0" fill="#6e0000"/>
<rect x="1229.7" y="829.3" width="3" height="4.2" fill="#00ff00"/>
<rect x="1242.5" y="804.3" width="3" height="29.2" fill="#00ff00"/>
<rect x="1255.3" y="789.3" width="3" height="44.2" fill="#00ff00"/>
<rect x="1268.1" y="779.3" width="3" height="54.2" fill="#00ff00"/>
<rect x="1280.8" y="773.0" width="3" height="60.5" fill="#00ff00"/>
<rect x="1293.6" y="769.3" width="3" height="64.2" fill="#00ff00"/>
<rect x="1306.4" y="766.8" width="3" height="66.7" fill="#00ff00"/>
<rect x="1319.2" y="766.3" width="3" height="67.2" fill="#00ff00"/>
<rect x="1332.0" y="768.0" width="3" height="65.5" fill="#006400"/>
<rect x="1344.8" y="770.5" width="3" height="63.0" fill="#006400"/>
<rect x="1357.6" y="774.5" width="3" height="59.0" fill="#006400"/>
<rect x="1370.4" y="780.0" width="3" height="53.5" fill="#006400"/>
<rect x="1383.2" y="784.3" width="3" height="49.2" fill="#006400"/>
<rect x="1396.0" y="788.8" width="3" height="44.7" fill="#006400"/>
<rect x="1408.8" y="791.5" width="3" height="42.0" fill="#006400"/>
<rect x="1421.6" y="797.2" width="3" height="36.3" fill="#006400"/>
<rect x="1434.4" y="809.5" width="3" height="24.0" fill="#006400"/>
<rect x="1447.2" y="818.8" width="3" height="14.7" fill="#006400"/>
<rect x="1460.0" y="827.0" width="3" height="6.5" fill="#006400"/>
<rect x="1472.8" y="832.5" width="3" height="1.0" fill="#006400"/>
<rect x="1485.6" y="833.5" width="3" height="7.3" fill="#ee0000"/>
<rect x="1498.3" y="833.5" width="3" height="35.3" fill="#ee0000"/>
<rect x="1511.1" y="833.5" width="3" height="66.0" fill="#ee0000"/>
<rect x="1523.9" y="833.5" width="3" height="82.8" fill="#ee0000"/>
<rect x="1536.7" y="833.5" width="3" height="92.0" fill="#ee0000"/>
<rect x="1549.5" y="833.5" width="3" height="95.3" fill="#ee0000"/>
<rect x="1562.3" y="833.5" width="3" height="94.8" fill="#6e0000"/>
<rect x="1575.1" y="833.5" width="3" height="92.3" fill="#6e0000"/>
<rect x="1587.9" y="833.5" width="3" height="88.3" fill="#6e0000"/>
<rect x="1600.7" y="833.5" width="3" height="82.8" fill="#6e0000"/>
<rect x="1613.5" y="833.5" width="3" height="77.3" fill="#6e0000"/>
<rect x="1626.3" y="833.5" width="3" height="72.8" fill="#6e0000"/>
<rect x="1639.1" y="833.5" width="3" height="69.0" fill="#6e0000"/>
<rect x="1651.9" y="833.5" width="3" height="66.0" fill="#6e0000"/>
<rect x="1664.7" y="833.5" width="3" height="64.5" fill="#6e0000"/>
<rect x="1677.5" y="833.5" width="3" height="63.8" fill="#6e0000"/>
<rect x="1690.3" y="833.5" width="3" height="63.3" fill="#6e0000"/>
<rect x="1703.0" y="833.5" width="3" height="63.0" fill="#6e0000"/>
<rect x="1715.8" y="833.5" width="3" height="62.8" fill="#6e0000"/>
<rect x="1728.6" y="833.5" width="3" height="62.3" fill="#6e0000"/>
<rect x="1741.4" y="833.5" width="3" height="61.5" fill="#6e0000"/>
<rect x="1754.2" y="833.5" width="3" height="60.3" fill="#6e0000"/>
<rect x="1767.0" y="833.5" width="3" height="57.8" fill="#6e0000"/>
<rect x="1779.8" y="833.5" width="3" height="40.3" fill="#6e0000"/>
<rect x="1792.6" y="833.5" width="3" height="2.8" fill="#6e0000"/>
<rect x="1805.4" y="813.3" width="3" height="20.2" fill="#00ff00"/>
<rect x="1818.2" y="797.5" width="3" height="36.0" fill="#00ff00"/>
<rect x="1831.0" y="789.3" width="3" height="44.2" fill="#00ff00"/>
<rect x="1843.8" y="784.3" width="3" height="49.2" fill="#00ff00"/>
<rect x="1856.6" y="781.3" width="3" height="52.2" fill="#00ff00"/>
<line x1="4" y1="739.2" x2="1864" y2="739.2" stroke="#f4d75c" stroke-width="0.9" stroke-dasharray="2 2.9"/>
<line x1="4" y1="833.6" x2="1864" y2="833.6" stroke="#f4d75c" stroke-width="0.9" stroke-dasharray="2 2.9"/>
<line x1="4" y1="927.8" x2="1864" y2="927.8" stroke="#f4d75c" stroke-width="0.9" stroke-dasharray="2 2.9"/>
<line x1="540" y1="791.2" x2="643" y2="793.8" stroke="#f06aa8" stroke-width="1"/>
<line x1="960" y1="834.5" x2="1308" y2="767" stroke="#e0446a" stroke-width="1" stroke-dasharray="2 2.5"/>
<line x1="1130" y1="942.5" x2="1565" y2="928.3" stroke="#35c2f5" stroke-width="1"/>
<polyline points="2.9,758.5 15.7,754.0 28.5,749.0 41.3,741.0 54.1,732.0 66.9,722.3 79.7,713.5 92.5,706.5 105.3,700.8 118.1,696.5 130.9,697.0 143.7,713.3 156.5,732.0 169.3,749.5 182.1,764.8 194.9,777.0 207.7,785.8 220.4,792.3 233.2,797.3 246.0,800.3 258.8,805.3 271.6,809.5 284.4,813.0 297.2,814.3 310.0,816.5 322.8,818.8 335.6,824.0 348.4,828.5 361.2,832.8 374.0,833.3 386.8,832.8 399.6,827.8 412.4,824.0 425.2,822.0 437.9,820.0 450.7,818.3 463.5,815.8 476.3,812.3 489.1,808.0 501.9,803.0 514.7,798.0 527.5,793.3 540.3,791.5 553.1,792.0 565.9,793.3 578.7,795.8 591.5,798.0 604.3,798.3 617.1,797.0 629.9,795.5 642.6,794.3 655.4,798.8 668.2,802.5 681.0,808.0 693.8,839.5 706.6,858.0 719.4,870.8 732.2,878.8 745.0,883.0 757.8,885.0 770.6,885.0 783.4,884.5 796.2,881.8 809.0,879.3 821.8,876.3 834.6,872.5 847.4,866.8 860.1,860.8 872.9,854.5 885.7,848.8 898.5,844.3 911.3,841.5 924.1,839.5 936.9,839.5 949.7,841.3 962.5,843.0 975.3,845.5 988.1,848.3 1000.9,850.8 1013.7,854.3 1026.5,859.3 1039.3,880.0 1052.1,908.0 1064.9,925.0 1077.6,935.5 1090.4,941.3 1103.2,943.3 1116.0,943.3 1128.8,942.5 1141.6,938.8 1154.4,935.5 1167.2,932.0 1180.0,926.3 1192.8,905.8 1205.6,876.3 1218.4,852.5 1231.2,829.3 1244.0,804.3 1256.8,789.3 1269.6,779.3 1282.3,773.0 1295.1,769.3 1307.9,766.8 1320.7,766.3 1333.5,768.0 1346.3,770.5 1359.1,774.5 1371.9,780.0 1384.7,784.3 1397.5,788.8 1410.3,791.5 1423.1,797.2 1435.9,809.5 1448.7,818.8 1461.5,827.0 1474.3,832.5 1487.1,840.8 1499.8,868.8 1512.6,899.5 1525.4,916.3 1538.2,925.5 1551.0,928.8 1563.8,928.3 1576.6,925.8 1589.4,921.8 1602.2,916.3 1615.0,910.8 1627.8,906.3 1640.6,902.5 1653.4,899.5 1666.2,898.0 1679.0,897.3 1691.8,896.8 1704.5,896.5 1717.3,896.3 1730.1,895.8 1742.9,895.0 1755.7,893.8 1768.5,891.3 1781.3,873.8 1794.1,836.3 1806.9,813.3 1819.7,797.5 1832.5,789.3 1845.3,784.3 1858.1,781.3" fill="none" stroke="#1e8fe6" stroke-width="1.6" stroke-linejoin="round"/>
<polyline points="2.9,771.5 15.7,766.5 28.5,762.3 41.3,757.3 54.1,751.5 66.9,744.8 79.7,737.3 92.5,729.0 105.3,720.3 118.1,713.3 130.9,707.8 143.7,702.8 156.5,701.3 169.3,701.5 182.1,707.8 194.9,719.0 207.7,734.0 220.4,749.0 233.2,762.8 246.0,773.3 258.8,782.0 271.6,789.5 284.4,795.3 297.2,800.3 310.0,804.5 322.8,809.0 335.6,812.5 348.4,815.8 361.2,818.5 374.0,821.3 386.8,823.3 399.6,824.8 412.4,826.5 425.2,828.0 437.9,828.8 450.7,829.0 463.5,829.0 476.3,829.0 489.1,829.3 501.9,828.3 514.7,827.0 527.5,824.5 540.3,822.0 553.1,819.3 565.9,816.3 578.7,813.0 591.5,810.0 604.3,807.5 617.1,805.8 629.9,803.8 642.6,802.0 655.4,800.5 668.2,799.3 681.0,798.8 693.8,799.3 706.6,807.5 719.4,822.5 732.2,839.3 745.0,853.8 757.8,864.3 770.6,872.5 783.4,878.8 796.2,883.8 809.0,887.0 821.8,889.5 834.6,890.0 847.4,890.0 860.1,890.0 872.9,888.8 885.7,886.8 898.5,884.3 911.3,880.5 924.1,876.3 936.9,872.5 949.7,868.8 962.5,865.5 975.3,863.8 988.1,860.5 1000.9,857.0 1013.7,854.5 1026.5,852.8 1039.3,852.8 1052.1,862.5 1064.9,878.8 1077.6,896.3 1090.4,912.5 1103.2,926.8 1116.0,936.3 1128.8,942.5 1141.6,945.5 1154.4,948.0 1167.2,950.0 1180.0,950.0 1192.8,949.5 1205.6,938.8 1218.4,910.0 1231.2,883.8 1244.0,856.3 1256.8,830.0 1269.6,807.5 1282.3,790.0 1295.1,776.3 1307.9,766.8 1320.7,761.3 1333.5,758.3 1346.3,756.3 1359.1,755.5 1371.9,755.3 1384.7,755.5 1397.5,756.8 1410.3,758.3 1423.1,760.3 1435.9,763.5 1448.7,766.8 1461.5,772.5 1474.3,779.5 1487.1,788.0 1499.8,807.5 1512.6,837.0 1525.4,866.3 1538.2,892.5 1551.0,913.8 1563.8,927.5 1576.6,935.5 1589.4,940.0 1602.2,942.5 1615.0,943.3 1627.8,943.3 1640.6,943.0 1653.4,941.3 1666.2,938.3 1679.0,935.0 1691.8,932.0 1704.5,928.8 1717.3,925.0 1730.1,922.0 1742.9,918.8 1755.7,915.5 1768.5,912.5 1781.3,909.3 1794.1,899.3 1806.9,877.5 1819.7,848.8 1832.5,823.8 1845.3,805.0 1858.1,792.5" fill="none" stroke="#ee10ee" stroke-width="1.6" stroke-linejoin="round"/>
<defs>
<linearGradient id="ag" x1="0" x2="1" y1="0" y2="0"><stop offset="0" stop-color="#6ad6f5"/><stop offset="0.5" stop-color="#58aaf0"/><stop offset="1" stop-color="#4a5ee0"/></linearGradient>
<linearGradient id="ag2" x1="0" x2="1" y1="0" y2="0"><stop offset="0" stop-color="#3f9fdc"/><stop offset="0.45" stop-color="#55bdee"/><stop offset="1" stop-color="#3a6fd0"/></linearGradient>
</defs>
<path d="M509.3,351.3 L508.4,185 L506.1,182 L512.5,146.6 L518.9,182 L516.8,185 L518,351.3 Z" fill="url(#ag)" stroke="#111" stroke-width="1.1" stroke-linejoin="miter" stroke-miterlimit="10"/>
<path d="M506.5,180 L503.2,198.6 L508.5,185 Z M518.5,180 L521.9,198.6 L516.7,185 Z" fill="#111" stroke="#111" stroke-width="0.3"/>
<path d="M372.5,640 L372.4,773.5 L370.8,776 L375.7,803 L380.6,776 L379.8,773.5 L379.6,640 Z" fill="url(#ag2)" stroke="#111" stroke-width="1.1" stroke-linejoin="miter" stroke-miterlimit="10"/>
<path d="M370.5,778.5 L368.2,760.6 L372.5,773.5 Z M380.9,778.5 L383.7,760.6 L379.7,773.5 Z" fill="#111" stroke="#111" stroke-width="0.3"/>
<text x="250.3" y="380.5" font-size="30" fill="#111" text-anchor="start" textLength="115.9" lengthAdjust="spacingAndGlyphs" stroke="#111" stroke-width="1.35" stroke-linejoin="round">Creating</text>
<text x="372.9" y="380.5" font-size="30" fill="#111" text-anchor="start" textLength="15.0" lengthAdjust="spacingAndGlyphs" stroke="#111" stroke-width="1.35" stroke-linejoin="round">a</text>
<text x="395.0" y="380.5" font-size="30" fill="#111" text-anchor="start" textLength="91.7" lengthAdjust="spacingAndGlyphs" stroke="#111" stroke-width="1.35" stroke-linejoin="round">ceiling</text>
<text x="490.7" y="380.5" font-size="30" fill="#111" text-anchor="start" textLength="86.4" lengthAdjust="spacingAndGlyphs" stroke="#111" stroke-width="1.35" stroke-linejoin="round">higher</text>
<text x="582.8" y="380.5" font-size="30" fill="#111" text-anchor="start" textLength="62.1" lengthAdjust="spacingAndGlyphs" stroke="#111" stroke-width="1.35" stroke-linejoin="round">than</text>
<text x="313.5" y="418.2" font-size="30" fill="#111" text-anchor="start" textLength="43.6" lengthAdjust="spacingAndGlyphs" stroke="#111" stroke-width="1.35" stroke-linejoin="round">the</text>
<text x="362.7" y="418.2" font-size="30" fill="#111" text-anchor="start" textLength="117.2" lengthAdjust="spacingAndGlyphs" stroke="#111" stroke-width="1.35" stroke-linejoin="round">previous</text>
<text x="487.1" y="418.2" font-size="30" fill="#111" text-anchor="start" textLength="90.5" lengthAdjust="spacingAndGlyphs" stroke="#111" stroke-width="1.35" stroke-linejoin="round">ceiling</text>
<text x="116.6" y="625.6" font-size="30" fill="#111" text-anchor="start" textLength="115.5" lengthAdjust="spacingAndGlyphs" stroke="#111" stroke-width="1.35" stroke-linejoin="round">Creating</text>
<text x="238.6" y="625.6" font-size="30" fill="#111" text-anchor="start" textLength="15.4" lengthAdjust="spacingAndGlyphs" stroke="#111" stroke-width="1.35" stroke-linejoin="round">a</text>
<text x="261.1" y="625.6" font-size="30" fill="#111" text-anchor="start" textLength="75.7" lengthAdjust="spacingAndGlyphs" stroke="#111" stroke-width="1.35" stroke-linejoin="round">lower</text>
<text x="342.8" y="625.6" font-size="30" fill="#111" text-anchor="start" textLength="98.5" lengthAdjust="spacingAndGlyphs" stroke="#111" stroke-width="1.35" stroke-linejoin="round">bottom</text>
<text x="447.8" y="625.6" font-size="30" fill="#111" text-anchor="start" textLength="61.5" lengthAdjust="spacingAndGlyphs" stroke="#111" stroke-width="1.35" stroke-linejoin="round">than</text>
<text x="516.2" y="625.6" font-size="30" fill="#111" text-anchor="start" textLength="43.2" lengthAdjust="spacingAndGlyphs" stroke="#111" stroke-width="1.35" stroke-linejoin="round">the</text>
<text x="563.7" y="625.6" font-size="30" fill="#111" text-anchor="start" textLength="117.7" lengthAdjust="spacingAndGlyphs" stroke="#111" stroke-width="1.35" stroke-linejoin="round">previous</text>
<text x="687.8" y="625.6" font-size="30" fill="#111" text-anchor="start" textLength="99.3" lengthAdjust="spacingAndGlyphs" stroke="#111" stroke-width="1.35" stroke-linejoin="round">bottom</text>
<rect x="0" y="56" width="4" height="940" fill="#fff"/>
<rect x="0" y="0" width="1" height="996" fill="#5a5a5a"/>
<rect x="2.2" y="55" width="1.7" height="941" fill="#7c7c7c"/>
<rect x="1866" y="46" width="53" height="7" fill="#f1f1f1"/>
<path d="M53.2,259.5 L32.1,316" stroke="#1d7f86" stroke-width="1" stroke-dasharray="2 2" fill="none"/>
<path d="M52,247.8 h4.6 v2.6 h2 l-4.3,4.4 l-4.3,-4.4 h2 z" fill="#e8380d"/>
<path d="M13.5,331 h4.6 v2.4 h2 l-4.3,4.2 l-4.3,-4.2 h2 z" fill="#e8380d"/><path d="M15.8,337.6 l3,2.2 h-6 z" fill="#2a6fd0"/>
<path d="M28.7,324.3 l4,3.4 h-8 z" fill="#e85a5a"/>
<path d="M28.7,327.4 l4,3.6 h-2 v1.6 h-4 v-1.6 h-2 z" fill="#1668c8"/>
<path d="M28.7,332 l4,3.6 h-2 v2.4 h-4 v-2.4 h-2 z" fill="#1668c8"/>

<g stroke="#3cc150" stroke-width="1.1" fill="none"><rect x="9.8" y="7.6" width="3.2" height="8.4" rx="0.8"/><line x1="11.4" y1="5.7" x2="11.4" y2="7.6"/><line x1="11.4" y1="16" x2="11.4" y2="17.8"/><rect x="16" y="7" width="3.2" height="10" rx="0.8"/><line x1="17.6" y1="4.9" x2="17.6" y2="7"/><line x1="17.6" y1="17" x2="17.6" y2="19.2"/></g>
<text x="32.5" y="16.2" font-size="12" fill="#1a1a1a" text-anchor="start" textLength="17.5" lengthAdjust="spacingAndGlyphs" >File</text>
<text x="71.7" y="16.2" font-size="12" fill="#1a1a1a" text-anchor="start" textLength="25.3" lengthAdjust="spacingAndGlyphs" >View</text>
<text x="117.8" y="16.2" font-size="12" fill="#1a1a1a" text-anchor="start" textLength="28.5" lengthAdjust="spacingAndGlyphs" >Insert</text>
<text x="167.2" y="16.2" font-size="12" fill="#1a1a1a" text-anchor="start" textLength="32.8" lengthAdjust="spacingAndGlyphs" >Charts</text>
<text x="221.2" y="16.2" font-size="12" fill="#1a1a1a" text-anchor="start" textLength="27.5" lengthAdjust="spacingAndGlyphs" >Tools</text>
<text x="270.0" y="16.2" font-size="12" fill="#1a1a1a" text-anchor="start" textLength="43.3" lengthAdjust="spacingAndGlyphs" >Window</text>
<text x="334.3" y="16.2" font-size="12" fill="#1a1a1a" text-anchor="start" textLength="26.0" lengthAdjust="spacingAndGlyphs" >Help</text>
<rect x="9.7" y="24" width="30.0" height="27.7" fill="#c5def4"/>
<rect x="438" y="24" width="29.8" height="27.7" fill="#c5def4"/>
<rect x="882" y="24" width="101.8" height="27.7" fill="#c5def4"/>
<rect x="1112.8" y="24" width="30.0" height="27.7" fill="#c5def4"/>
<rect x="1309.5" y="24" width="25.5" height="27.7" fill="#c5def4"/>
<rect x="72.8" y="25.5" width="1" height="26" fill="#9a9a9a"/>
<rect x="717.6" y="25.5" width="1" height="26" fill="#9a9a9a"/>
<rect x="878.1" y="25.5" width="1" height="26" fill="#9a9a9a"/>
<rect x="1078.1" y="25.5" width="1" height="26" fill="#9a9a9a"/>
<rect x="1176.1" y="25.5" width="1" height="26" fill="#9a9a9a"/>
<rect x="1274.8" y="25.5" width="1" height="26" fill="#9a9a9a"/>
<line x1="3.4" y1="24.5" x2="3.4" y2="52" stroke="#a0a0a0" stroke-width="1" stroke-dasharray="1 2.3"/>
<line x1="307" y1="24.5" x2="307" y2="52" stroke="#a0a0a0" stroke-width="1" stroke-dasharray="1 2.3"/>
<line x1="595.8" y1="24.5" x2="595.8" y2="52" stroke="#a0a0a0" stroke-width="1" stroke-dasharray="1 2.3"/>
<path d="M18.4,32 L30.8,36.6 L26.4,38.6 L30.6,42.8 L28.6,44.6 L24.6,40.4 L21.8,43.8 Z" fill="#c3eafc" stroke="#2f7fc1" stroke-width="1.3" stroke-linejoin="round"/>
<g stroke="#2f7fc1" stroke-width="1.35" fill="none"><line x1="47" y1="38" x2="63.5" y2="38"/><line x1="55.3" y1="29.5" x2="55.3" y2="46"/><circle cx="55.3" cy="38" r="2.4" fill="#c9ecfc"/></g>
<g stroke="#2f7fc1" stroke-width="1.35" fill="none"><line x1="91.2" y1="29" x2="91.2" y2="47"/><circle cx="91.2" cy="38" r="2.4" fill="#c9ecfc"/></g>
<g stroke="#2f7fc1" stroke-width="1.35" fill="none"><line x1="113" y1="38" x2="131.5" y2="38"/><circle cx="122.3" cy="38" r="2.4" fill="#c9ecfc"/></g>
<g stroke="#2f7fc1" stroke-width="1.35" fill="none"><line x1="147" y1="44.5" x2="160" y2="31.5"/><circle cx="146.5" cy="45" r="2.4" fill="#c9ecfc"/><circle cx="160.5" cy="31" r="2.4" fill="#c9ecfc"/></g>
<g stroke="#2f7fc1" stroke-width="1.35" fill="none"><line x1="178.5" y1="38.5" x2="185" y2="31.5"/><line x1="184.5" y1="44.5" x2="194" y2="35"/><circle cx="177.8" cy="39.2" r="2.4" fill="#c9ecfc"/><circle cx="185.7" cy="30.8" r="2.4" fill="#c9ecfc"/><circle cx="183.8" cy="45.2" r="2.4" fill="#c9ecfc"/></g>
<g stroke="#2f7fc1" stroke-width="1.35" fill="none"><line x1="206.5" y1="30" x2="225.5" y2="30"/><line x1="206.5" y1="35" x2="221" y2="35"/><line x1="206.5" y1="40" x2="225.5" y2="40"/><line x1="211" y1="45" x2="225.5" y2="45"/><circle cx="223" cy="35" r="2" fill="#c9ecfc"/><circle cx="209" cy="45" r="2" fill="#c9ecfc"/></g>
<g stroke="#2f7fc1" stroke-width="1.45" fill="none"><line x1="240.5" y1="32" x2="254" y2="32"/><line x1="247.2" y1="32" x2="247.2" y2="45"/></g>
<g stroke="#2f7fc1" stroke-width="1.35" fill="none" stroke-linejoin="round"><path d="M273,30 L276.3,36 L269.7,36 Z"/><circle cx="282.5" cy="33" r="3"/><path d="M273,40.5 L276.2,42.8 L275,46.3 L271,46.3 L269.8,42.8 Z"/><rect x="279.5" y="40.5" width="6" height="6" rx="1"/></g>
<path d="M293.4,36.5 h7.2 l-3.6,4 z" fill="#111"/>
<path d="M631.6999999999999,35.5 h7.2 l-3.6,4 z" fill="#111"/>
<path d="M673.4,35.5 h7.2 l-3.6,4 z" fill="#111"/>
<text x="320.3" y="43.3" font-size="12.5" fill="#25639c" text-anchor="start" textLength="15.5" lengthAdjust="spacingAndGlyphs" stroke="#25639c" stroke-width="0.35">M1</text>
<text x="351.7" y="43.3" font-size="12.5" fill="#25639c" text-anchor="start" textLength="15.8" lengthAdjust="spacingAndGlyphs" stroke="#25639c" stroke-width="0.35">M5</text>
<text x="379.7" y="43.3" font-size="12.5" fill="#25639c" text-anchor="start" textLength="22.0" lengthAdjust="spacingAndGlyphs" stroke="#25639c" stroke-width="0.35">M15</text>
<text x="410.8" y="43.3" font-size="12.5" fill="#25639c" text-anchor="start" textLength="22.5" lengthAdjust="spacingAndGlyphs" stroke="#25639c" stroke-width="0.35">M30</text>
<text x="446.2" y="43.3" font-size="12.5" fill="#25639c" text-anchor="start" textLength="13.8" lengthAdjust="spacingAndGlyphs" stroke="#25639c" stroke-width="0.35">H1</text>
<text x="477.0" y="43.3" font-size="12.5" fill="#25639c" text-anchor="start" textLength="14.0" lengthAdjust="spacingAndGlyphs" stroke="#25639c" stroke-width="0.35">H4</text>
<text x="508.3" y="43.3" font-size="12.5" fill="#25639c" text-anchor="start" textLength="13.4" lengthAdjust="spacingAndGlyphs" stroke="#25639c" stroke-width="0.35">D1</text>
<text x="538.0" y="43.3" font-size="12.5" fill="#25639c" text-anchor="start" textLength="16.2" lengthAdjust="spacingAndGlyphs" stroke="#25639c" stroke-width="0.35">W1</text>
<text x="568.7" y="43.3" font-size="12.5" fill="#25639c" text-anchor="start" textLength="18.3" lengthAdjust="spacingAndGlyphs" stroke="#25639c" stroke-width="0.35">MN</text>
<path d="M608,29.5 V46 H624.5" fill="none" stroke="#b9b9b9" stroke-width="1.3"/><path d="M610.5,38 q2.2,-4 4.4,-1.4 t4.4,0.5 l4,-3.2" fill="none" stroke="#2f7fc1" stroke-width="1.4"/>
<rect x="648.5" y="29" width="18" height="14.5" rx="2.5" fill="#cfe6f7" stroke="#2f7fc1" stroke-width="1.4"/><path d="M650.5,44.5 h14 l-1.5,2.8 h-11 z" fill="#cfe6f7" stroke="#2f7fc1" stroke-width="1.2"/><path d="M651.5,37 l3.5,-2.5 l3,1.2 l5.5,-3.5" fill="none" stroke="#3cb54a" stroke-width="1.2"/><g stroke="#3cb54a" stroke-width="1.2"><line x1="652.5" y1="41" x2="652.5" y2="39.5"/><line x1="655" y1="41" x2="655" y2="38.5"/><line x1="657.5" y1="41" x2="657.5" y2="39"/><line x1="660" y1="41" x2="660" y2="38"/><line x1="662.5" y1="41" x2="662.5" y2="37"/></g>
<rect x="691.8" y="30" width="16.5" height="16.3" rx="2.5" fill="#f7c413" stroke="#e8ad0a" stroke-width="1"/><text x="700.0" y="43.0" font-size="13" fill="#d89a00" text-anchor="middle" >$</text>
<text x="727.0" y="43.3" font-size="12.5" fill="#25639c" text-anchor="start" textLength="17.2" lengthAdjust="spacingAndGlyphs" stroke="#25639c" stroke-width="0.45">IDE</text>
<path d="M762.5,31.5 q0,-3.5 4.5,-3.5 t4.5,3.5" fill="none" stroke="#e9b430" stroke-width="1.3"/><path d="M760.5,34 h13.3 l1.2,12 h-15.7 z" fill="#f5c21c" stroke="#e2a90c" stroke-width="1"/>
<g fill="none" stroke="#c4c4c4" stroke-width="1.2"><circle cx="797.8" cy="37.5" r="1.8"/><path d="M794,34 q-2.2,3.5 0,7"/><path d="M801.6,34 q2.2,3.5 0,7"/><path d="M791,32 q-3.6,5.5 0,11"/><path d="M804.6,32 q3.6,5.5 0,11"/></g>
<path d="M824,39.5 q-3.3,-0.3 -3,-3.2 q0.4,-2.6 3.2,-2.4 q1,-3.4 4.8,-3.2 q3.6,0.3 4.2,3.4 q3.6,0 3.6,2.8 q0,2.6 -3.2,2.6 z" fill="#cfe6f7" stroke="#2f7fc1" stroke-width="1.3"/><g stroke="#2f7fc1" stroke-width="1.3"><line x1="829" y1="39.5" x2="829" y2="44"/><line x1="821" y1="44.3" x2="837" y2="44.3"/></g>
<g fill="none" stroke="#2f7fc1" stroke-width="1.3"><path d="M859,45.5 a8,8 0 1 1 8,-9"/><path d="M859,41.5 a4.3,4.3 0 1 1 4.2,-5"/><circle cx="859.5" cy="37.2" r="1.2" fill="#2f7fc1"/></g><circle cx="864.5" cy="42.3" r="4.6" fill="#eaf7ea" stroke="#3cb54a" stroke-width="1.3"/><path d="M862,42.3 h5 M864.5,39.8 v5" stroke="#3cb54a" stroke-width="1.4"/>
<path d="M892,32.5 L900.5,38 L892,43.5 Z" fill="#e9f7e9" stroke="#3cb54a" stroke-width="1.4" stroke-linejoin="round"/>
<text x="909.5" y="42.8" font-size="12.5" fill="#222" text-anchor="start" textLength="68.0" lengthAdjust="spacingAndGlyphs" >Algo Trading</text>
<path d="M993,30.5 h10 q1.5,0 1.5,1.5 v9.5 l-4.5,4.5 h-7 q-1.5,0 -1.5,-1.5 v-12.5 q0,-1.5 1.5,-1.5 z" fill="#fff" stroke="#2f7fc1" stroke-width="1.3"/><path d="M1004.3,41.8 l-4,4 v-4 z" fill="#2f7fc1"/><path d="M995.5,36.5 h6 M998.5,33.5 v6" stroke="#2f7fc1" stroke-width="1.3"/>
<text x="1012.8" y="42.8" font-size="12.5" fill="#222" text-anchor="start" textLength="57.2" lengthAdjust="spacingAndGlyphs" >New Order</text>
<g stroke="#3cb54a" stroke-width="1.5" fill="none"><path d="M1091,33.5 V45.5 M1088.5,43 H1091 M1091,36.5 H1093.5"/><path d="M1101.5,30 V41 M1099,32.5 H1101.5 M1101.5,38.5 H1104"/></g>
<g stroke="#3cb54a" stroke-width="1.5" fill="none"><rect x="1121.5" y="32.5" width="4" height="11" rx="1.2"/><path d="M1123.5,30 v2.5 M1123.5,43.5 v2.5"/><rect x="1130" y="32.5" width="4" height="11" rx="1.2"/><path d="M1132,30 v2.5 M1132,43.5 v2.5"/></g>
<path d="M1151.5,40.5 l3,-4 l2.5,5.5 l3.5,-9 l2.5,6 l2,-2.5 l1.5,1" fill="none" stroke="#3cb54a" stroke-width="1.5" stroke-linejoin="round"/>
<circle cx="1192.3" cy="36" r="5.6" fill="#cfe6f7" stroke="#2f7fc1" stroke-width="1.4"/><line x1="1196.5" y1="40.2" x2="1202.1" y2="45.8" stroke="#2f7fc1" stroke-width="1.6"/><line x1="1189.3" y1="36" x2="1195.3" y2="36" stroke="#2f7fc1" stroke-width="1.4"/>
<line x1="1192.3" y1="33" x2="1192.3" y2="39" stroke="#2f7fc1" stroke-width="1.4"/>
<circle cx="1223.8" cy="36" r="5.6" fill="#cfe6f7" stroke="#2f7fc1" stroke-width="1.4"/><line x1="1228.0" y1="40.2" x2="1233.6" y2="45.8" stroke="#2f7fc1" stroke-width="1.6"/><line x1="1220.8" y1="36" x2="1226.8" y2="36" stroke="#2f7fc1" stroke-width="1.4"/>
<rect x="1249" y="30" width="16.5" height="16" rx="2" fill="#cfe6f7" stroke="#2f7fc1" stroke-width="1.4"/><path d="M1257.2,30 v16 M1249,38 h16.5" stroke="#2f7fc1" stroke-width="1.4"/>
<g stroke="#3cb54a" stroke-width="1.3" fill="#8fd49a"><rect x="1283.3" y="33" width="2.6" height="8" rx="1"/><rect x="1288" y="33" width="2.6" height="8" rx="1"/><path d="M1284.6,31 v2 M1284.6,41 v2 M1289.3,31 v2 M1289.3,41 v2" fill="none"/></g><path d="M1292.5,37 h7 M1297,34.5 l2.7,2.5 l-2.7,2.5" fill="none" stroke="#3cb54a" stroke-width="1.3"/><line x1="1302" y1="30" x2="1302" y2="44" stroke="#2f7fc1" stroke-width="1.4"/><line x1="1284" y1="46.7" x2="1302.5" y2="46.7" stroke="#b0b0b0" stroke-width="1.2"/>
<path d="M1313,33 v12 M1313,37 l3,4 l2,-2" fill="none" stroke="#3cb54a" stroke-width="1.4"/><line x1="1312" y1="46.7" x2="1326" y2="46.7" stroke="#b0b0b0" stroke-width="1.2"/>
<path d="M1294,0 L1617,0 C1612,8 1607,16 1603.6,23 C1597,38 1590,50 1583,56 C1576,63 1570,66.5 1560,66.5 L1352,66.5 C1342,66.5 1335,62 1328,55 C1320,45 1313,32 1308,22 C1304,13 1299,6 1294,0 Z" fill="#f2f2f2"/>
<rect x="1294" y="0" width="323" height="1.1" fill="#111"/>
<g fill="none" stroke="#22e6ec" stroke-width="2.3" stroke-linejoin="miter"><path d="M1372,26 L1372,11.9 L1363.9,11.9 L1363.9,29.6 L1368.6,29.6"/><path d="M1376.8,29.6 L1391.1,29.6 L1391.1,22.3 L1379.8,22.3 L1363.8,37.7 L1363.8,44.5 L1371.4,51.8 L1391.1,51.8 L1391.1,43.1 L1372.2,43.1 L1372.2,33.8"/></g>
<text x="1401.6" y="41.6" font-size="19" fill="#8a8a8a" text-anchor="start" textLength="152.7" lengthAdjust="spacingAndGlyphs" >Trading Finder</text>
<g stroke="#222" stroke-width="1.5" fill="none"><circle cx="1781" cy="36.5" r="5.2"/><line x1="1784.8" y1="40.3" x2="1788.8" y2="44.3"/></g>
<g stroke="#222" stroke-width="1.3" fill="none"><circle cx="1812" cy="37.3" r="5.6"/><circle cx="1812" cy="35.3" r="1.9"/><path d="M1808,41 q4,-4 8,0"/></g>
<circle cx="1822" cy="34.7" r="7.3" fill="#e8321f"/><text x="1822.0" y="39.0" font-size="12" fill="#fff" text-anchor="middle" >1</text>
<path d="M1853,30 l4,4 h-2.3 v3 h-3.4 v-3 h-2.3 z" fill="#e9f7e9" stroke="#3cb54a" stroke-width="1.1" stroke-linejoin="round"/><text x="1847.3" y="45.2" font-size="7.5" fill="#3cb54a" text-anchor="start" textLength="11.8" lengthAdjust="spacingAndGlyphs" font-weight="bold">LVL</text>
<rect x="1869" y="31.6" width="44.6" height="14" fill="#fff" stroke="#b8b8b8" stroke-width="1"/><rect x="1869.6" y="32.2" width="20" height="12.8" fill="#3fd23f"/>
<g stroke="#333" stroke-width="1.4" fill="none"><line x1="1866.5" y1="15.3" x2="1874" y2="15.3"/><rect x="1885.8" y="10.3" width="5.4" height="5.2"/><path d="M1888,10.3 v-2 h5.6 v5.4 h-2.2"/><path d="M1905.2,9 l7,6.6 M1912.2,9 l-7,6.6" stroke-width="1.6"/></g>
<rect x="7.5" y="60.3" width="14.6" height="10.6" rx="1.5" fill="#fde9e6" stroke="#e57373" stroke-width="1.1"/><path d="M14.8,60.3 h5.8 q1.5,0 1.5,1.5 v7.6 q0,1.5 -1.5,1.5 h-5.8 z" fill="#cfe9fb" stroke="none"/><path d="M14.8,60.3 h5.8 q1.5,0 1.5,1.5 v7.6 q0,1.5 -1.5,1.5 h-5.8" fill="none" stroke="#2f7fc1" stroke-width="1.1"/><g stroke-width="1.1"><path d="M9.5,63 h4 M9.5,65.7 h4 M9.5,68.4 h4" stroke="#e05a4a"/><path d="M16.2,63 h4 M16.2,65.7 h4 M16.2,68.4 h4" stroke="#1f6aa5"/></g>
<path d="M29.8,60.5 h2.6 v3.6 h2.8 v6.6 h-5.4 z" fill="#fde1dc" stroke="#e06a6a" stroke-width="1.1" stroke-linejoin="round"/><path d="M38,64.3 h2.8 v-3.8 h2.6 v10.2 h-5.4 z" fill="#bfe2f8" stroke="#2f7fc1" stroke-width="1.1" stroke-linejoin="round"/><rect x="34.8" y="60.2" width="3.6" height="1.8" fill="#e8e8e8" stroke="#aaa" stroke-width="0.6"/>
</svg>
</body></html>
